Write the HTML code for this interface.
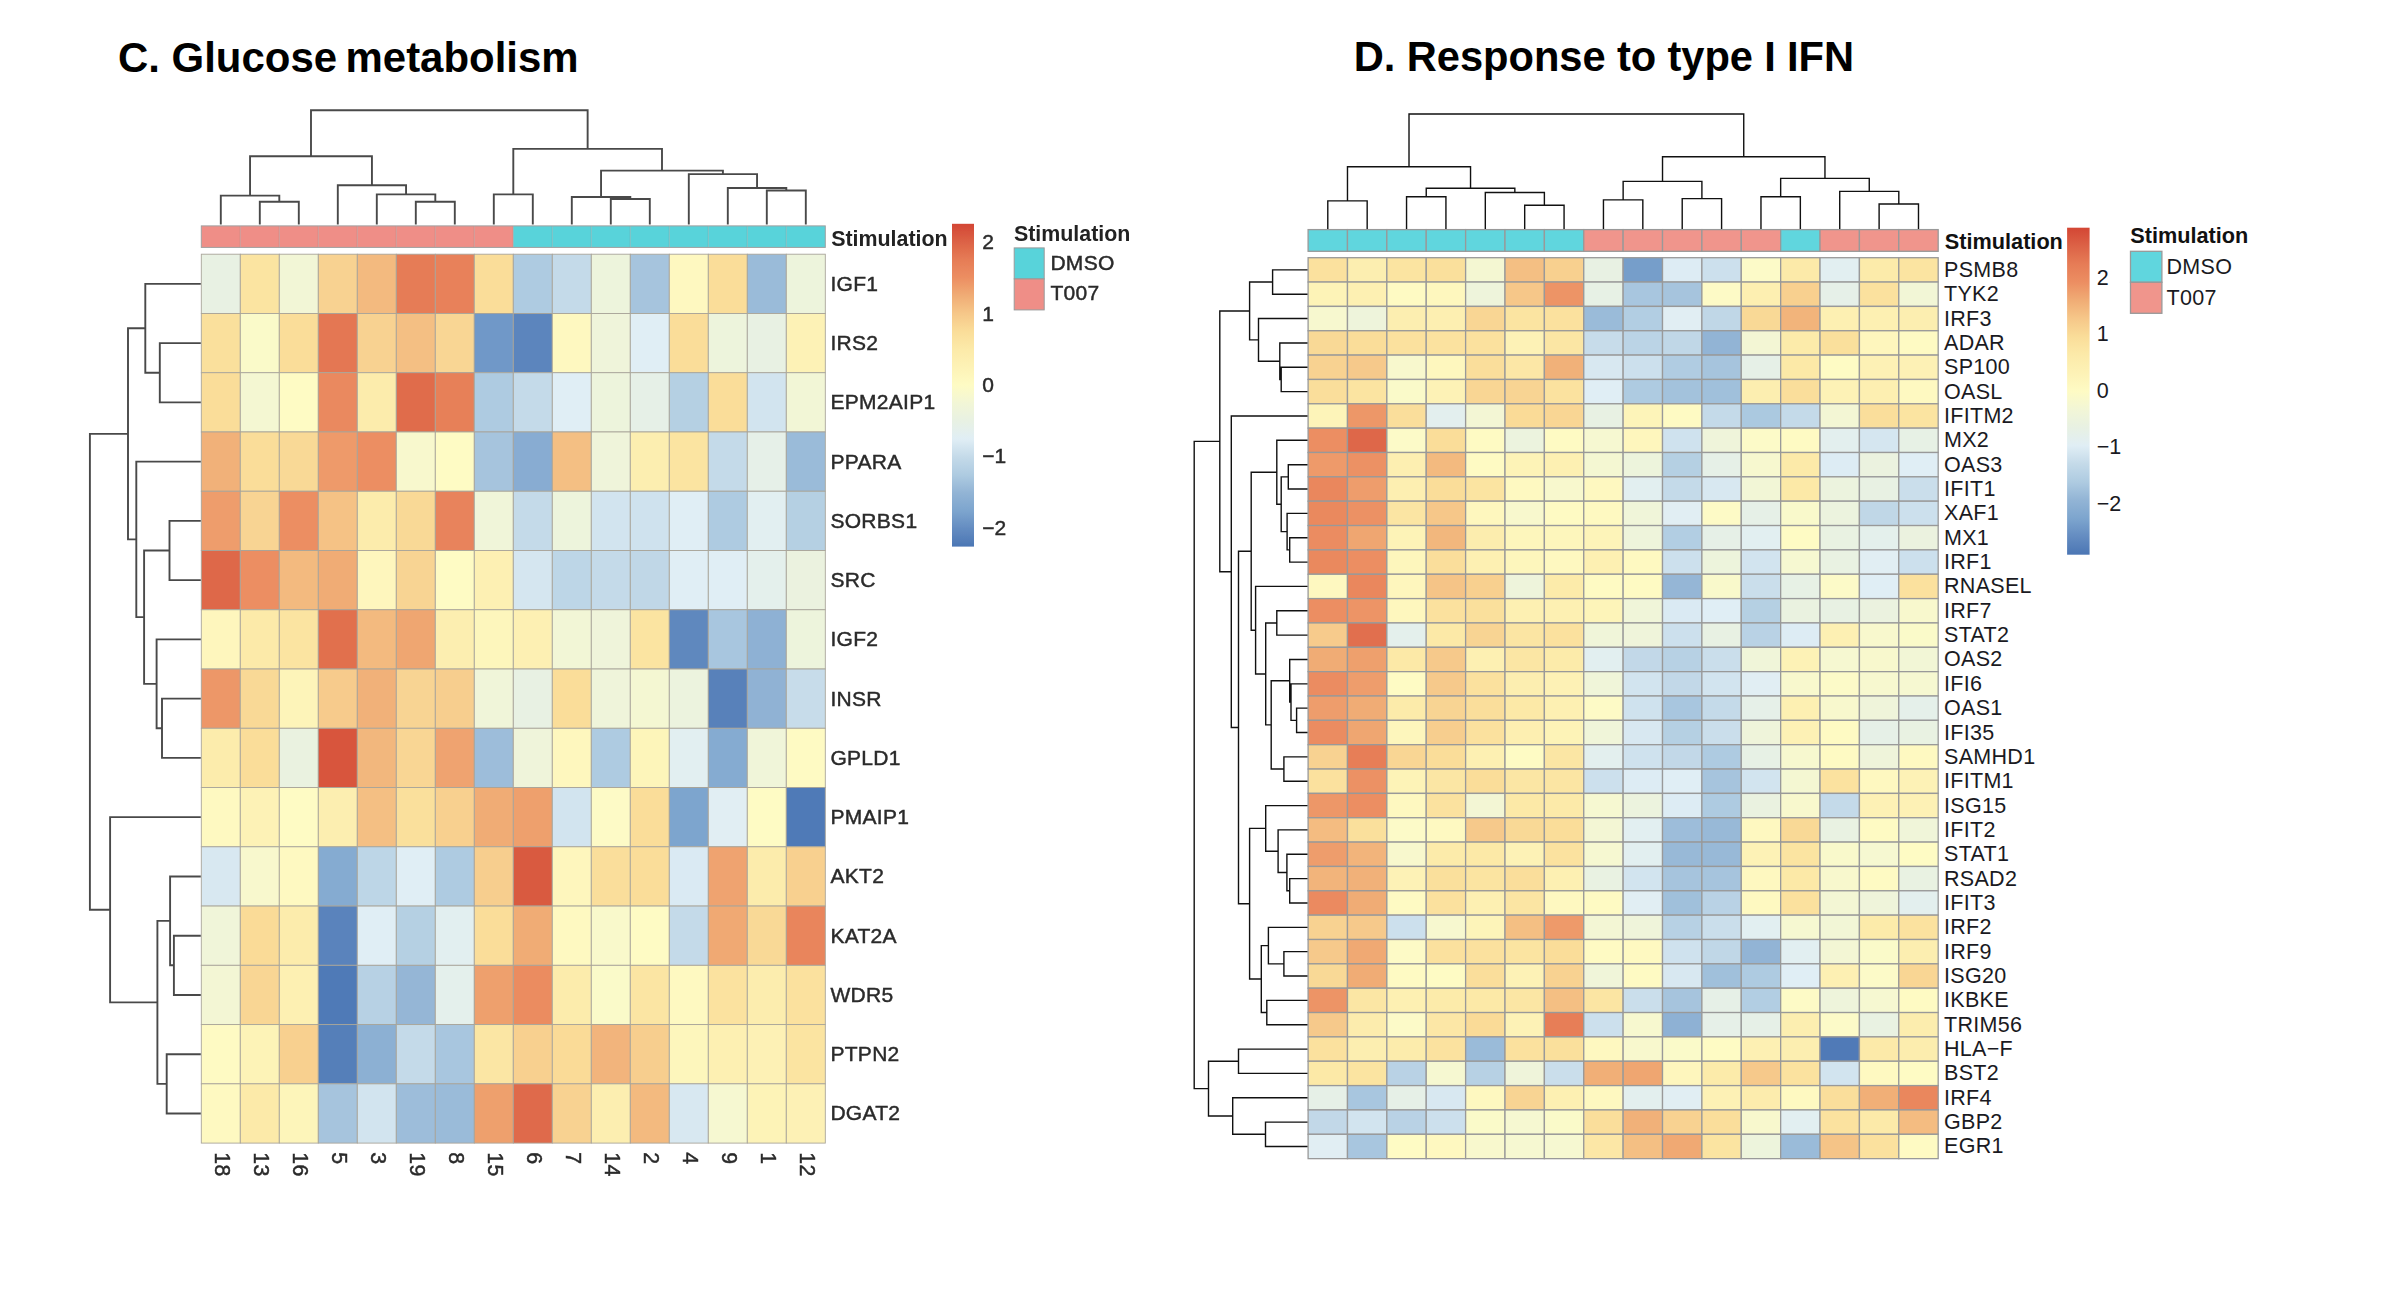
<!DOCTYPE html>
<html><head><meta charset="utf-8"><title>Heatmaps</title>
<style>
html,body{margin:0;padding:0;background:#fff;}
body{width:2407px;height:1303px;overflow:hidden;}
svg{display:block;font-family:"Liberation Sans",Arial,Helvetica,sans-serif;}
</style></head><body>
<svg width="2407" height="1303" viewBox="0 0 2407 1303">
<rect width="2407" height="1303" fill="#ffffff"/>
<text x="118.00" y="71.90" font-size="41.95" font-weight="bold" text-anchor="start" fill="#000" >C. Glucose<tspan dx="-3.2"> metabolism</tspan></text>
<defs><filter id="bl" x="-2%" y="-2%" width="104%" height="104%"><feGaussianBlur stdDeviation="0.55"/></filter></defs><g filter="url(#bl)">
<rect x="201.30" y="225.90" width="39.00" height="21.50" fill="#ef8e87"/>
<rect x="240.30" y="225.90" width="39.00" height="21.50" fill="#ef8e87"/>
<rect x="279.30" y="225.90" width="39.00" height="21.50" fill="#ef8e87"/>
<rect x="318.30" y="225.90" width="39.00" height="21.50" fill="#ef8e87"/>
<rect x="357.30" y="225.90" width="39.00" height="21.50" fill="#ef8e87"/>
<rect x="396.30" y="225.90" width="39.00" height="21.50" fill="#ef8e87"/>
<rect x="435.30" y="225.90" width="39.00" height="21.50" fill="#ef8e87"/>
<rect x="474.30" y="225.90" width="39.00" height="21.50" fill="#ef8e87"/>
<rect x="513.30" y="225.90" width="39.00" height="21.50" fill="#58d3da"/>
<rect x="552.30" y="225.90" width="39.00" height="21.50" fill="#58d3da"/>
<rect x="591.30" y="225.90" width="39.00" height="21.50" fill="#58d3da"/>
<rect x="630.30" y="225.90" width="39.00" height="21.50" fill="#58d3da"/>
<rect x="669.30" y="225.90" width="39.00" height="21.50" fill="#58d3da"/>
<rect x="708.30" y="225.90" width="39.00" height="21.50" fill="#58d3da"/>
<rect x="747.30" y="225.90" width="39.00" height="21.50" fill="#58d3da"/>
<rect x="786.30" y="225.90" width="39.00" height="21.50" fill="#58d3da"/>
<line x1="240.30" y1="225.9" x2="240.30" y2="247.4" stroke="#8c8c8c" stroke-opacity="0.35" stroke-width="1.2"/>
<line x1="279.30" y1="225.9" x2="279.30" y2="247.4" stroke="#8c8c8c" stroke-opacity="0.35" stroke-width="1.2"/>
<line x1="318.30" y1="225.9" x2="318.30" y2="247.4" stroke="#8c8c8c" stroke-opacity="0.35" stroke-width="1.2"/>
<line x1="357.30" y1="225.9" x2="357.30" y2="247.4" stroke="#8c8c8c" stroke-opacity="0.35" stroke-width="1.2"/>
<line x1="396.30" y1="225.9" x2="396.30" y2="247.4" stroke="#8c8c8c" stroke-opacity="0.35" stroke-width="1.2"/>
<line x1="435.30" y1="225.9" x2="435.30" y2="247.4" stroke="#8c8c8c" stroke-opacity="0.35" stroke-width="1.2"/>
<line x1="474.30" y1="225.9" x2="474.30" y2="247.4" stroke="#8c8c8c" stroke-opacity="0.35" stroke-width="1.2"/>
<line x1="513.30" y1="225.9" x2="513.30" y2="247.4" stroke="#8c8c8c" stroke-opacity="0.35" stroke-width="1.2"/>
<line x1="552.30" y1="225.9" x2="552.30" y2="247.4" stroke="#8c8c8c" stroke-opacity="0.35" stroke-width="1.2"/>
<line x1="591.30" y1="225.9" x2="591.30" y2="247.4" stroke="#8c8c8c" stroke-opacity="0.35" stroke-width="1.2"/>
<line x1="630.30" y1="225.9" x2="630.30" y2="247.4" stroke="#8c8c8c" stroke-opacity="0.35" stroke-width="1.2"/>
<line x1="669.30" y1="225.9" x2="669.30" y2="247.4" stroke="#8c8c8c" stroke-opacity="0.35" stroke-width="1.2"/>
<line x1="708.30" y1="225.9" x2="708.30" y2="247.4" stroke="#8c8c8c" stroke-opacity="0.35" stroke-width="1.2"/>
<line x1="747.30" y1="225.9" x2="747.30" y2="247.4" stroke="#8c8c8c" stroke-opacity="0.35" stroke-width="1.2"/>
<line x1="786.30" y1="225.9" x2="786.30" y2="247.4" stroke="#8c8c8c" stroke-opacity="0.35" stroke-width="1.2"/>
<rect x="201.30" y="225.90" width="624.00" height="21.50" fill="none" stroke="#a0a0a0" stroke-width="1"/>
<rect x="201.30" y="254.20" width="39.00" height="59.26" fill="#e8f1e3" stroke="#a9a59a" stroke-width="0.9"/>
<rect x="240.30" y="254.20" width="39.00" height="59.26" fill="#fbe4a1" stroke="#a9a59a" stroke-width="0.9"/>
<rect x="279.30" y="254.20" width="39.00" height="59.26" fill="#f2f6d6" stroke="#a9a59a" stroke-width="0.9"/>
<rect x="318.30" y="254.20" width="39.00" height="59.26" fill="#f8d291" stroke="#a9a59a" stroke-width="0.9"/>
<rect x="357.30" y="254.20" width="39.00" height="59.26" fill="#f3ba7f" stroke="#a9a59a" stroke-width="0.9"/>
<rect x="396.30" y="254.20" width="39.00" height="59.26" fill="#e67c56" stroke="#a9a59a" stroke-width="0.9"/>
<rect x="435.30" y="254.20" width="39.00" height="59.26" fill="#e8815a" stroke="#a9a59a" stroke-width="0.9"/>
<rect x="474.30" y="254.20" width="39.00" height="59.26" fill="#fadd99" stroke="#a9a59a" stroke-width="0.9"/>
<rect x="513.30" y="254.20" width="39.00" height="59.26" fill="#aecbe1" stroke="#a9a59a" stroke-width="0.9"/>
<rect x="552.30" y="254.20" width="39.00" height="59.26" fill="#c4dae9" stroke="#a9a59a" stroke-width="0.9"/>
<rect x="591.30" y="254.20" width="39.00" height="59.26" fill="#edf4dc" stroke="#a9a59a" stroke-width="0.9"/>
<rect x="630.30" y="254.20" width="39.00" height="59.26" fill="#a6c4dd" stroke="#a9a59a" stroke-width="0.9"/>
<rect x="669.30" y="254.20" width="39.00" height="59.26" fill="#fef8c0" stroke="#a9a59a" stroke-width="0.9"/>
<rect x="708.30" y="254.20" width="39.00" height="59.26" fill="#fadd99" stroke="#a9a59a" stroke-width="0.9"/>
<rect x="747.30" y="254.20" width="39.00" height="59.26" fill="#9abbd9" stroke="#a9a59a" stroke-width="0.9"/>
<rect x="786.30" y="254.20" width="39.00" height="59.26" fill="#edf4dc" stroke="#a9a59a" stroke-width="0.9"/>
<rect x="201.30" y="313.46" width="39.00" height="59.26" fill="#fae09c" stroke="#a9a59a" stroke-width="0.9"/>
<rect x="240.30" y="313.46" width="39.00" height="59.26" fill="#fafac9" stroke="#a9a59a" stroke-width="0.9"/>
<rect x="279.30" y="313.46" width="39.00" height="59.26" fill="#fadd99" stroke="#a9a59a" stroke-width="0.9"/>
<rect x="318.30" y="313.46" width="39.00" height="59.26" fill="#e47753" stroke="#a9a59a" stroke-width="0.9"/>
<rect x="357.30" y="313.46" width="39.00" height="59.26" fill="#f8d291" stroke="#a9a59a" stroke-width="0.9"/>
<rect x="396.30" y="313.46" width="39.00" height="59.26" fill="#f4bf83" stroke="#a9a59a" stroke-width="0.9"/>
<rect x="435.30" y="313.46" width="39.00" height="59.26" fill="#f9d694" stroke="#a9a59a" stroke-width="0.9"/>
<rect x="474.30" y="313.46" width="39.00" height="59.26" fill="#7098c8" stroke="#a9a59a" stroke-width="0.9"/>
<rect x="513.30" y="313.46" width="39.00" height="59.26" fill="#5c85bd" stroke="#a9a59a" stroke-width="0.9"/>
<rect x="552.30" y="313.46" width="39.00" height="59.26" fill="#fef8c0" stroke="#a9a59a" stroke-width="0.9"/>
<rect x="591.30" y="313.46" width="39.00" height="59.26" fill="#eff4da" stroke="#a9a59a" stroke-width="0.9"/>
<rect x="630.30" y="313.46" width="39.00" height="59.26" fill="#e0eef5" stroke="#a9a59a" stroke-width="0.9"/>
<rect x="669.30" y="313.46" width="39.00" height="59.26" fill="#fadd99" stroke="#a9a59a" stroke-width="0.9"/>
<rect x="708.30" y="313.46" width="39.00" height="59.26" fill="#edf4dc" stroke="#a9a59a" stroke-width="0.9"/>
<rect x="747.30" y="313.46" width="39.00" height="59.26" fill="#e8f1e3" stroke="#a9a59a" stroke-width="0.9"/>
<rect x="786.30" y="313.46" width="39.00" height="59.26" fill="#fdf2b6" stroke="#a9a59a" stroke-width="0.9"/>
<rect x="201.30" y="372.72" width="39.00" height="59.26" fill="#fadd99" stroke="#a9a59a" stroke-width="0.9"/>
<rect x="240.30" y="372.72" width="39.00" height="59.26" fill="#f4f7d2" stroke="#a9a59a" stroke-width="0.9"/>
<rect x="279.30" y="372.72" width="39.00" height="59.26" fill="#fefbc4" stroke="#a9a59a" stroke-width="0.9"/>
<rect x="318.30" y="372.72" width="39.00" height="59.26" fill="#ea895e" stroke="#a9a59a" stroke-width="0.9"/>
<rect x="357.30" y="372.72" width="39.00" height="59.26" fill="#fcecac" stroke="#a9a59a" stroke-width="0.9"/>
<rect x="396.30" y="372.72" width="39.00" height="59.26" fill="#e06c4c" stroke="#a9a59a" stroke-width="0.9"/>
<rect x="435.30" y="372.72" width="39.00" height="59.26" fill="#e78058" stroke="#a9a59a" stroke-width="0.9"/>
<rect x="474.30" y="372.72" width="39.00" height="59.26" fill="#aecbe1" stroke="#a9a59a" stroke-width="0.9"/>
<rect x="513.30" y="372.72" width="39.00" height="59.26" fill="#c4dae9" stroke="#a9a59a" stroke-width="0.9"/>
<rect x="552.30" y="372.72" width="39.00" height="59.26" fill="#e0eef5" stroke="#a9a59a" stroke-width="0.9"/>
<rect x="591.30" y="372.72" width="39.00" height="59.26" fill="#edf4dc" stroke="#a9a59a" stroke-width="0.9"/>
<rect x="630.30" y="372.72" width="39.00" height="59.26" fill="#e6f0e7" stroke="#a9a59a" stroke-width="0.9"/>
<rect x="669.30" y="372.72" width="39.00" height="59.26" fill="#b5d0e3" stroke="#a9a59a" stroke-width="0.9"/>
<rect x="708.30" y="372.72" width="39.00" height="59.26" fill="#fadd99" stroke="#a9a59a" stroke-width="0.9"/>
<rect x="747.30" y="372.72" width="39.00" height="59.26" fill="#d2e4ef" stroke="#a9a59a" stroke-width="0.9"/>
<rect x="786.30" y="372.72" width="39.00" height="59.26" fill="#f2f6d6" stroke="#a9a59a" stroke-width="0.9"/>
<rect x="201.30" y="431.98" width="39.00" height="59.26" fill="#f1b179" stroke="#a9a59a" stroke-width="0.9"/>
<rect x="240.30" y="431.98" width="39.00" height="59.26" fill="#fadd99" stroke="#a9a59a" stroke-width="0.9"/>
<rect x="279.30" y="431.98" width="39.00" height="59.26" fill="#f9d996" stroke="#a9a59a" stroke-width="0.9"/>
<rect x="318.30" y="431.98" width="39.00" height="59.26" fill="#ee9a6a" stroke="#a9a59a" stroke-width="0.9"/>
<rect x="357.30" y="431.98" width="39.00" height="59.26" fill="#ec8e62" stroke="#a9a59a" stroke-width="0.9"/>
<rect x="396.30" y="431.98" width="39.00" height="59.26" fill="#f8f8cd" stroke="#a9a59a" stroke-width="0.9"/>
<rect x="435.30" y="431.98" width="39.00" height="59.26" fill="#fefbc4" stroke="#a9a59a" stroke-width="0.9"/>
<rect x="474.30" y="431.98" width="39.00" height="59.26" fill="#a6c4dd" stroke="#a9a59a" stroke-width="0.9"/>
<rect x="513.30" y="431.98" width="39.00" height="59.26" fill="#88acd2" stroke="#a9a59a" stroke-width="0.9"/>
<rect x="552.30" y="431.98" width="39.00" height="59.26" fill="#f4bf83" stroke="#a9a59a" stroke-width="0.9"/>
<rect x="591.30" y="431.98" width="39.00" height="59.26" fill="#eff4da" stroke="#a9a59a" stroke-width="0.9"/>
<rect x="630.30" y="431.98" width="39.00" height="59.26" fill="#fceeb0" stroke="#a9a59a" stroke-width="0.9"/>
<rect x="669.30" y="431.98" width="39.00" height="59.26" fill="#fbe4a1" stroke="#a9a59a" stroke-width="0.9"/>
<rect x="708.30" y="431.98" width="39.00" height="59.26" fill="#c4dae9" stroke="#a9a59a" stroke-width="0.9"/>
<rect x="747.30" y="431.98" width="39.00" height="59.26" fill="#e6f0e8" stroke="#a9a59a" stroke-width="0.9"/>
<rect x="786.30" y="431.98" width="39.00" height="59.26" fill="#9abbd9" stroke="#a9a59a" stroke-width="0.9"/>
<rect x="201.30" y="491.24" width="39.00" height="59.26" fill="#ee9d6c" stroke="#a9a59a" stroke-width="0.9"/>
<rect x="240.30" y="491.24" width="39.00" height="59.26" fill="#f8d493" stroke="#a9a59a" stroke-width="0.9"/>
<rect x="279.30" y="491.24" width="39.00" height="59.26" fill="#ec8e62" stroke="#a9a59a" stroke-width="0.9"/>
<rect x="318.30" y="491.24" width="39.00" height="59.26" fill="#f5c285" stroke="#a9a59a" stroke-width="0.9"/>
<rect x="357.30" y="491.24" width="39.00" height="59.26" fill="#fcecac" stroke="#a9a59a" stroke-width="0.9"/>
<rect x="396.30" y="491.24" width="39.00" height="59.26" fill="#f9d996" stroke="#a9a59a" stroke-width="0.9"/>
<rect x="435.30" y="491.24" width="39.00" height="59.26" fill="#e8835b" stroke="#a9a59a" stroke-width="0.9"/>
<rect x="474.30" y="491.24" width="39.00" height="59.26" fill="#f0f5d9" stroke="#a9a59a" stroke-width="0.9"/>
<rect x="513.30" y="491.24" width="39.00" height="59.26" fill="#c4dae9" stroke="#a9a59a" stroke-width="0.9"/>
<rect x="552.30" y="491.24" width="39.00" height="59.26" fill="#edf4dc" stroke="#a9a59a" stroke-width="0.9"/>
<rect x="591.30" y="491.24" width="39.00" height="59.26" fill="#d2e4ef" stroke="#a9a59a" stroke-width="0.9"/>
<rect x="630.30" y="491.24" width="39.00" height="59.26" fill="#cfe2ee" stroke="#a9a59a" stroke-width="0.9"/>
<rect x="669.30" y="491.24" width="39.00" height="59.26" fill="#e0eef5" stroke="#a9a59a" stroke-width="0.9"/>
<rect x="708.30" y="491.24" width="39.00" height="59.26" fill="#aecbe1" stroke="#a9a59a" stroke-width="0.9"/>
<rect x="747.30" y="491.24" width="39.00" height="59.26" fill="#e2eff1" stroke="#a9a59a" stroke-width="0.9"/>
<rect x="786.30" y="491.24" width="39.00" height="59.26" fill="#b5d0e3" stroke="#a9a59a" stroke-width="0.9"/>
<rect x="201.30" y="550.50" width="39.00" height="59.26" fill="#de6749" stroke="#a9a59a" stroke-width="0.9"/>
<rect x="240.30" y="550.50" width="39.00" height="59.26" fill="#ec8e62" stroke="#a9a59a" stroke-width="0.9"/>
<rect x="279.30" y="550.50" width="39.00" height="59.26" fill="#f3ba7f" stroke="#a9a59a" stroke-width="0.9"/>
<rect x="318.30" y="550.50" width="39.00" height="59.26" fill="#f0ac75" stroke="#a9a59a" stroke-width="0.9"/>
<rect x="357.30" y="550.50" width="39.00" height="59.26" fill="#fef6bd" stroke="#a9a59a" stroke-width="0.9"/>
<rect x="396.30" y="550.50" width="39.00" height="59.26" fill="#f8d493" stroke="#a9a59a" stroke-width="0.9"/>
<rect x="435.30" y="550.50" width="39.00" height="59.26" fill="#fefbc4" stroke="#a9a59a" stroke-width="0.9"/>
<rect x="474.30" y="550.50" width="39.00" height="59.26" fill="#fdf0b3" stroke="#a9a59a" stroke-width="0.9"/>
<rect x="513.30" y="550.50" width="39.00" height="59.26" fill="#d5e6f0" stroke="#a9a59a" stroke-width="0.9"/>
<rect x="552.30" y="550.50" width="39.00" height="59.26" fill="#bdd6e7" stroke="#a9a59a" stroke-width="0.9"/>
<rect x="591.30" y="550.50" width="39.00" height="59.26" fill="#c4dae9" stroke="#a9a59a" stroke-width="0.9"/>
<rect x="630.30" y="550.50" width="39.00" height="59.26" fill="#c0d7e7" stroke="#a9a59a" stroke-width="0.9"/>
<rect x="669.30" y="550.50" width="39.00" height="59.26" fill="#e0eef5" stroke="#a9a59a" stroke-width="0.9"/>
<rect x="708.30" y="550.50" width="39.00" height="59.26" fill="#e0eef5" stroke="#a9a59a" stroke-width="0.9"/>
<rect x="747.30" y="550.50" width="39.00" height="59.26" fill="#e4f0ec" stroke="#a9a59a" stroke-width="0.9"/>
<rect x="786.30" y="550.50" width="39.00" height="59.26" fill="#ebf2df" stroke="#a9a59a" stroke-width="0.9"/>
<rect x="201.30" y="609.76" width="39.00" height="59.26" fill="#fef6bd" stroke="#a9a59a" stroke-width="0.9"/>
<rect x="240.30" y="609.76" width="39.00" height="59.26" fill="#fceaa9" stroke="#a9a59a" stroke-width="0.9"/>
<rect x="279.30" y="609.76" width="39.00" height="59.26" fill="#fbe4a1" stroke="#a9a59a" stroke-width="0.9"/>
<rect x="318.30" y="609.76" width="39.00" height="59.26" fill="#e16f4e" stroke="#a9a59a" stroke-width="0.9"/>
<rect x="357.30" y="609.76" width="39.00" height="59.26" fill="#f3ba7f" stroke="#a9a59a" stroke-width="0.9"/>
<rect x="396.30" y="609.76" width="39.00" height="59.26" fill="#efa671" stroke="#a9a59a" stroke-width="0.9"/>
<rect x="435.30" y="609.76" width="39.00" height="59.26" fill="#fceeb0" stroke="#a9a59a" stroke-width="0.9"/>
<rect x="474.30" y="609.76" width="39.00" height="59.26" fill="#fdf6bc" stroke="#a9a59a" stroke-width="0.9"/>
<rect x="513.30" y="609.76" width="39.00" height="59.26" fill="#fdf0b3" stroke="#a9a59a" stroke-width="0.9"/>
<rect x="552.30" y="609.76" width="39.00" height="59.26" fill="#f2f6d6" stroke="#a9a59a" stroke-width="0.9"/>
<rect x="591.30" y="609.76" width="39.00" height="59.26" fill="#eff4da" stroke="#a9a59a" stroke-width="0.9"/>
<rect x="630.30" y="609.76" width="39.00" height="59.26" fill="#fbe4a1" stroke="#a9a59a" stroke-width="0.9"/>
<rect x="669.30" y="609.76" width="39.00" height="59.26" fill="#5f88be" stroke="#a9a59a" stroke-width="0.9"/>
<rect x="708.30" y="609.76" width="39.00" height="59.26" fill="#a8c6df" stroke="#a9a59a" stroke-width="0.9"/>
<rect x="747.30" y="609.76" width="39.00" height="59.26" fill="#8eb1d4" stroke="#a9a59a" stroke-width="0.9"/>
<rect x="786.30" y="609.76" width="39.00" height="59.26" fill="#edf4dc" stroke="#a9a59a" stroke-width="0.9"/>
<rect x="201.30" y="669.02" width="39.00" height="59.26" fill="#ed9768" stroke="#a9a59a" stroke-width="0.9"/>
<rect x="240.30" y="669.02" width="39.00" height="59.26" fill="#f9d996" stroke="#a9a59a" stroke-width="0.9"/>
<rect x="279.30" y="669.02" width="39.00" height="59.26" fill="#fdf4b9" stroke="#a9a59a" stroke-width="0.9"/>
<rect x="318.30" y="669.02" width="39.00" height="59.26" fill="#f7cb8c" stroke="#a9a59a" stroke-width="0.9"/>
<rect x="357.30" y="669.02" width="39.00" height="59.26" fill="#f1b179" stroke="#a9a59a" stroke-width="0.9"/>
<rect x="396.30" y="669.02" width="39.00" height="59.26" fill="#f8d493" stroke="#a9a59a" stroke-width="0.9"/>
<rect x="435.30" y="669.02" width="39.00" height="59.26" fill="#f7ce8e" stroke="#a9a59a" stroke-width="0.9"/>
<rect x="474.30" y="669.02" width="39.00" height="59.26" fill="#f0f5d9" stroke="#a9a59a" stroke-width="0.9"/>
<rect x="513.30" y="669.02" width="39.00" height="59.26" fill="#e8f1e3" stroke="#a9a59a" stroke-width="0.9"/>
<rect x="552.30" y="669.02" width="39.00" height="59.26" fill="#fadd99" stroke="#a9a59a" stroke-width="0.9"/>
<rect x="591.30" y="669.02" width="39.00" height="59.26" fill="#eff4da" stroke="#a9a59a" stroke-width="0.9"/>
<rect x="630.30" y="669.02" width="39.00" height="59.26" fill="#f4f7d2" stroke="#a9a59a" stroke-width="0.9"/>
<rect x="669.30" y="669.02" width="39.00" height="59.26" fill="#ecf3de" stroke="#a9a59a" stroke-width="0.9"/>
<rect x="708.30" y="669.02" width="39.00" height="59.26" fill="#5881ba" stroke="#a9a59a" stroke-width="0.9"/>
<rect x="747.30" y="669.02" width="39.00" height="59.26" fill="#90b2d4" stroke="#a9a59a" stroke-width="0.9"/>
<rect x="786.30" y="669.02" width="39.00" height="59.26" fill="#c7dcea" stroke="#a9a59a" stroke-width="0.9"/>
<rect x="201.30" y="728.28" width="39.00" height="59.26" fill="#fcecac" stroke="#a9a59a" stroke-width="0.9"/>
<rect x="240.30" y="728.28" width="39.00" height="59.26" fill="#fadd99" stroke="#a9a59a" stroke-width="0.9"/>
<rect x="279.30" y="728.28" width="39.00" height="59.26" fill="#eaf2e0" stroke="#a9a59a" stroke-width="0.9"/>
<rect x="318.30" y="728.28" width="39.00" height="59.26" fill="#d8543d" stroke="#a9a59a" stroke-width="0.9"/>
<rect x="357.30" y="728.28" width="39.00" height="59.26" fill="#f2b77d" stroke="#a9a59a" stroke-width="0.9"/>
<rect x="396.30" y="728.28" width="39.00" height="59.26" fill="#f9d694" stroke="#a9a59a" stroke-width="0.9"/>
<rect x="435.30" y="728.28" width="39.00" height="59.26" fill="#efa36f" stroke="#a9a59a" stroke-width="0.9"/>
<rect x="474.30" y="728.28" width="39.00" height="59.26" fill="#9dbdda" stroke="#a9a59a" stroke-width="0.9"/>
<rect x="513.30" y="728.28" width="39.00" height="59.26" fill="#eff4da" stroke="#a9a59a" stroke-width="0.9"/>
<rect x="552.30" y="728.28" width="39.00" height="59.26" fill="#fef7be" stroke="#a9a59a" stroke-width="0.9"/>
<rect x="591.30" y="728.28" width="39.00" height="59.26" fill="#aecbe1" stroke="#a9a59a" stroke-width="0.9"/>
<rect x="630.30" y="728.28" width="39.00" height="59.26" fill="#fdf5ba" stroke="#a9a59a" stroke-width="0.9"/>
<rect x="669.30" y="728.28" width="39.00" height="59.26" fill="#e2eff1" stroke="#a9a59a" stroke-width="0.9"/>
<rect x="708.30" y="728.28" width="39.00" height="59.26" fill="#85abd1" stroke="#a9a59a" stroke-width="0.9"/>
<rect x="747.30" y="728.28" width="39.00" height="59.26" fill="#f0f5d9" stroke="#a9a59a" stroke-width="0.9"/>
<rect x="786.30" y="728.28" width="39.00" height="59.26" fill="#fefac3" stroke="#a9a59a" stroke-width="0.9"/>
<rect x="201.30" y="787.54" width="39.00" height="59.26" fill="#fef9c1" stroke="#a9a59a" stroke-width="0.9"/>
<rect x="240.30" y="787.54" width="39.00" height="59.26" fill="#fdf2b6" stroke="#a9a59a" stroke-width="0.9"/>
<rect x="279.30" y="787.54" width="39.00" height="59.26" fill="#fefbc4" stroke="#a9a59a" stroke-width="0.9"/>
<rect x="318.30" y="787.54" width="39.00" height="59.26" fill="#fceeb0" stroke="#a9a59a" stroke-width="0.9"/>
<rect x="357.30" y="787.54" width="39.00" height="59.26" fill="#f4bf83" stroke="#a9a59a" stroke-width="0.9"/>
<rect x="396.30" y="787.54" width="39.00" height="59.26" fill="#fae09c" stroke="#a9a59a" stroke-width="0.9"/>
<rect x="435.30" y="787.54" width="39.00" height="59.26" fill="#f8d08f" stroke="#a9a59a" stroke-width="0.9"/>
<rect x="474.30" y="787.54" width="39.00" height="59.26" fill="#f0ac75" stroke="#a9a59a" stroke-width="0.9"/>
<rect x="513.30" y="787.54" width="39.00" height="59.26" fill="#eea06d" stroke="#a9a59a" stroke-width="0.9"/>
<rect x="552.30" y="787.54" width="39.00" height="59.26" fill="#d2e4ef" stroke="#a9a59a" stroke-width="0.9"/>
<rect x="591.30" y="787.54" width="39.00" height="59.26" fill="#fdfac6" stroke="#a9a59a" stroke-width="0.9"/>
<rect x="630.30" y="787.54" width="39.00" height="59.26" fill="#fadd99" stroke="#a9a59a" stroke-width="0.9"/>
<rect x="669.30" y="787.54" width="39.00" height="59.26" fill="#7da5ce" stroke="#a9a59a" stroke-width="0.9"/>
<rect x="708.30" y="787.54" width="39.00" height="59.26" fill="#e1eef3" stroke="#a9a59a" stroke-width="0.9"/>
<rect x="747.30" y="787.54" width="39.00" height="59.26" fill="#fefbc4" stroke="#a9a59a" stroke-width="0.9"/>
<rect x="786.30" y="787.54" width="39.00" height="59.26" fill="#507ab7" stroke="#a9a59a" stroke-width="0.9"/>
<rect x="201.30" y="846.80" width="39.00" height="59.26" fill="#d8e8f1" stroke="#a9a59a" stroke-width="0.9"/>
<rect x="240.30" y="846.80" width="39.00" height="59.26" fill="#f8f8cd" stroke="#a9a59a" stroke-width="0.9"/>
<rect x="279.30" y="846.80" width="39.00" height="59.26" fill="#fef9c1" stroke="#a9a59a" stroke-width="0.9"/>
<rect x="318.30" y="846.80" width="39.00" height="59.26" fill="#85abd1" stroke="#a9a59a" stroke-width="0.9"/>
<rect x="357.30" y="846.80" width="39.00" height="59.26" fill="#bdd6e7" stroke="#a9a59a" stroke-width="0.9"/>
<rect x="396.30" y="846.80" width="39.00" height="59.26" fill="#e0eef5" stroke="#a9a59a" stroke-width="0.9"/>
<rect x="435.30" y="846.80" width="39.00" height="59.26" fill="#aecbe1" stroke="#a9a59a" stroke-width="0.9"/>
<rect x="474.30" y="846.80" width="39.00" height="59.26" fill="#f7ce8e" stroke="#a9a59a" stroke-width="0.9"/>
<rect x="513.30" y="846.80" width="39.00" height="59.26" fill="#d95a41" stroke="#a9a59a" stroke-width="0.9"/>
<rect x="552.30" y="846.80" width="39.00" height="59.26" fill="#fef6bd" stroke="#a9a59a" stroke-width="0.9"/>
<rect x="591.30" y="846.80" width="39.00" height="59.26" fill="#fade9b" stroke="#a9a59a" stroke-width="0.9"/>
<rect x="630.30" y="846.80" width="39.00" height="59.26" fill="#fadd99" stroke="#a9a59a" stroke-width="0.9"/>
<rect x="669.30" y="846.80" width="39.00" height="59.26" fill="#daeaf3" stroke="#a9a59a" stroke-width="0.9"/>
<rect x="708.30" y="846.80" width="39.00" height="59.26" fill="#efa36f" stroke="#a9a59a" stroke-width="0.9"/>
<rect x="747.30" y="846.80" width="39.00" height="59.26" fill="#fcecac" stroke="#a9a59a" stroke-width="0.9"/>
<rect x="786.30" y="846.80" width="39.00" height="59.26" fill="#f8d08f" stroke="#a9a59a" stroke-width="0.9"/>
<rect x="201.30" y="906.06" width="39.00" height="59.26" fill="#f0f5d9" stroke="#a9a59a" stroke-width="0.9"/>
<rect x="240.30" y="906.06" width="39.00" height="59.26" fill="#fadb97" stroke="#a9a59a" stroke-width="0.9"/>
<rect x="279.30" y="906.06" width="39.00" height="59.26" fill="#fcecac" stroke="#a9a59a" stroke-width="0.9"/>
<rect x="318.30" y="906.06" width="39.00" height="59.26" fill="#5a83bc" stroke="#a9a59a" stroke-width="0.9"/>
<rect x="357.30" y="906.06" width="39.00" height="59.26" fill="#e0eef5" stroke="#a9a59a" stroke-width="0.9"/>
<rect x="396.30" y="906.06" width="39.00" height="59.26" fill="#b5d0e3" stroke="#a9a59a" stroke-width="0.9"/>
<rect x="435.30" y="906.06" width="39.00" height="59.26" fill="#e2eff0" stroke="#a9a59a" stroke-width="0.9"/>
<rect x="474.30" y="906.06" width="39.00" height="59.26" fill="#fadd99" stroke="#a9a59a" stroke-width="0.9"/>
<rect x="513.30" y="906.06" width="39.00" height="59.26" fill="#f0ac75" stroke="#a9a59a" stroke-width="0.9"/>
<rect x="552.30" y="906.06" width="39.00" height="59.26" fill="#fef9c1" stroke="#a9a59a" stroke-width="0.9"/>
<rect x="591.30" y="906.06" width="39.00" height="59.26" fill="#f9f9cb" stroke="#a9a59a" stroke-width="0.9"/>
<rect x="630.30" y="906.06" width="39.00" height="59.26" fill="#fefbc4" stroke="#a9a59a" stroke-width="0.9"/>
<rect x="669.30" y="906.06" width="39.00" height="59.26" fill="#c4dae9" stroke="#a9a59a" stroke-width="0.9"/>
<rect x="708.30" y="906.06" width="39.00" height="59.26" fill="#f0a973" stroke="#a9a59a" stroke-width="0.9"/>
<rect x="747.30" y="906.06" width="39.00" height="59.26" fill="#f9d996" stroke="#a9a59a" stroke-width="0.9"/>
<rect x="786.30" y="906.06" width="39.00" height="59.26" fill="#e9855c" stroke="#a9a59a" stroke-width="0.9"/>
<rect x="201.30" y="965.32" width="39.00" height="59.26" fill="#f3f6d4" stroke="#a9a59a" stroke-width="0.9"/>
<rect x="240.30" y="965.32" width="39.00" height="59.26" fill="#f9d694" stroke="#a9a59a" stroke-width="0.9"/>
<rect x="279.30" y="965.32" width="39.00" height="59.26" fill="#fdf0b2" stroke="#a9a59a" stroke-width="0.9"/>
<rect x="318.30" y="965.32" width="39.00" height="59.26" fill="#507ab7" stroke="#a9a59a" stroke-width="0.9"/>
<rect x="357.30" y="965.32" width="39.00" height="59.26" fill="#b7d1e4" stroke="#a9a59a" stroke-width="0.9"/>
<rect x="396.30" y="965.32" width="39.00" height="59.26" fill="#95b6d6" stroke="#a9a59a" stroke-width="0.9"/>
<rect x="435.30" y="965.32" width="39.00" height="59.26" fill="#e4f0ec" stroke="#a9a59a" stroke-width="0.9"/>
<rect x="474.30" y="965.32" width="39.00" height="59.26" fill="#eea06d" stroke="#a9a59a" stroke-width="0.9"/>
<rect x="513.30" y="965.32" width="39.00" height="59.26" fill="#eb8c61" stroke="#a9a59a" stroke-width="0.9"/>
<rect x="552.30" y="965.32" width="39.00" height="59.26" fill="#fcecac" stroke="#a9a59a" stroke-width="0.9"/>
<rect x="591.30" y="965.32" width="39.00" height="59.26" fill="#fafac9" stroke="#a9a59a" stroke-width="0.9"/>
<rect x="630.30" y="965.32" width="39.00" height="59.26" fill="#fbe5a3" stroke="#a9a59a" stroke-width="0.9"/>
<rect x="669.30" y="965.32" width="39.00" height="59.26" fill="#fef9c1" stroke="#a9a59a" stroke-width="0.9"/>
<rect x="708.30" y="965.32" width="39.00" height="59.26" fill="#fbe29f" stroke="#a9a59a" stroke-width="0.9"/>
<rect x="747.30" y="965.32" width="39.00" height="59.26" fill="#fcedae" stroke="#a9a59a" stroke-width="0.9"/>
<rect x="786.30" y="965.32" width="39.00" height="59.26" fill="#fbe19e" stroke="#a9a59a" stroke-width="0.9"/>
<rect x="201.30" y="1024.58" width="39.00" height="59.26" fill="#fefac3" stroke="#a9a59a" stroke-width="0.9"/>
<rect x="240.30" y="1024.58" width="39.00" height="59.26" fill="#fdf3b7" stroke="#a9a59a" stroke-width="0.9"/>
<rect x="279.30" y="1024.58" width="39.00" height="59.26" fill="#f8d08f" stroke="#a9a59a" stroke-width="0.9"/>
<rect x="318.30" y="1024.58" width="39.00" height="59.26" fill="#557fb9" stroke="#a9a59a" stroke-width="0.9"/>
<rect x="357.30" y="1024.58" width="39.00" height="59.26" fill="#8cb0d3" stroke="#a9a59a" stroke-width="0.9"/>
<rect x="396.30" y="1024.58" width="39.00" height="59.26" fill="#c4dae9" stroke="#a9a59a" stroke-width="0.9"/>
<rect x="435.30" y="1024.58" width="39.00" height="59.26" fill="#a8c6df" stroke="#a9a59a" stroke-width="0.9"/>
<rect x="474.30" y="1024.58" width="39.00" height="59.26" fill="#fbe6a4" stroke="#a9a59a" stroke-width="0.9"/>
<rect x="513.30" y="1024.58" width="39.00" height="59.26" fill="#f8d08f" stroke="#a9a59a" stroke-width="0.9"/>
<rect x="552.30" y="1024.58" width="39.00" height="59.26" fill="#fadb97" stroke="#a9a59a" stroke-width="0.9"/>
<rect x="591.30" y="1024.58" width="39.00" height="59.26" fill="#f2b47b" stroke="#a9a59a" stroke-width="0.9"/>
<rect x="630.30" y="1024.58" width="39.00" height="59.26" fill="#f7ce8e" stroke="#a9a59a" stroke-width="0.9"/>
<rect x="669.30" y="1024.58" width="39.00" height="59.26" fill="#fdf6bc" stroke="#a9a59a" stroke-width="0.9"/>
<rect x="708.30" y="1024.58" width="39.00" height="59.26" fill="#fdf0b2" stroke="#a9a59a" stroke-width="0.9"/>
<rect x="747.30" y="1024.58" width="39.00" height="59.26" fill="#fdf1b5" stroke="#a9a59a" stroke-width="0.9"/>
<rect x="786.30" y="1024.58" width="39.00" height="59.26" fill="#fbe4a1" stroke="#a9a59a" stroke-width="0.9"/>
<rect x="201.30" y="1083.84" width="39.00" height="59.26" fill="#fef9c1" stroke="#a9a59a" stroke-width="0.9"/>
<rect x="240.30" y="1083.84" width="39.00" height="59.26" fill="#fceaa9" stroke="#a9a59a" stroke-width="0.9"/>
<rect x="279.30" y="1083.84" width="39.00" height="59.26" fill="#fdf5ba" stroke="#a9a59a" stroke-width="0.9"/>
<rect x="318.30" y="1083.84" width="39.00" height="59.26" fill="#a6c4dd" stroke="#a9a59a" stroke-width="0.9"/>
<rect x="357.30" y="1083.84" width="39.00" height="59.26" fill="#d2e4ef" stroke="#a9a59a" stroke-width="0.9"/>
<rect x="396.30" y="1083.84" width="39.00" height="59.26" fill="#9dbdda" stroke="#a9a59a" stroke-width="0.9"/>
<rect x="435.30" y="1083.84" width="39.00" height="59.26" fill="#9abbd9" stroke="#a9a59a" stroke-width="0.9"/>
<rect x="474.30" y="1083.84" width="39.00" height="59.26" fill="#eea06d" stroke="#a9a59a" stroke-width="0.9"/>
<rect x="513.30" y="1083.84" width="39.00" height="59.26" fill="#df6a4b" stroke="#a9a59a" stroke-width="0.9"/>
<rect x="552.30" y="1083.84" width="39.00" height="59.26" fill="#f8d291" stroke="#a9a59a" stroke-width="0.9"/>
<rect x="591.30" y="1083.84" width="39.00" height="59.26" fill="#fceeb0" stroke="#a9a59a" stroke-width="0.9"/>
<rect x="630.30" y="1083.84" width="39.00" height="59.26" fill="#f3ba7f" stroke="#a9a59a" stroke-width="0.9"/>
<rect x="669.30" y="1083.84" width="39.00" height="59.26" fill="#d8e8f1" stroke="#a9a59a" stroke-width="0.9"/>
<rect x="708.30" y="1083.84" width="39.00" height="59.26" fill="#f6f8d1" stroke="#a9a59a" stroke-width="0.9"/>
<rect x="747.30" y="1083.84" width="39.00" height="59.26" fill="#fdf3b7" stroke="#a9a59a" stroke-width="0.9"/>
<rect x="786.30" y="1083.84" width="39.00" height="59.26" fill="#fdf1b5" stroke="#a9a59a" stroke-width="0.9"/>
<path d="M259.80,224.40V201.80H298.80V224.40 M220.80,224.40V195.60H279.30V201.80 M415.80,224.40V201.80H454.80V224.40 M376.80,224.40V194.40H435.30V201.80 M337.80,224.40V185.20H406.05V194.40 M250.05,195.60V156.30H371.93V185.20 M493.80,224.40V194.40H532.80V224.40 M610.80,224.40V199.00H649.80V224.40 M571.80,224.40V197.00H630.30V199.00 M766.80,224.40V190.50H805.80V224.40 M727.80,224.40V188.00H786.30V190.50 M688.80,224.40V174.10H757.05V188.00 M601.05,197.00V170.60H722.92V174.10 M513.30,194.40V148.90H661.99V170.60 M310.99,156.30V110.30H587.64V148.90" fill="none" stroke="#4a4a4a" stroke-width="1.9" stroke-linejoin="miter" stroke-linecap="butt"/>
<path d="M200.80,343.09H159.80V402.35H200.80 M200.80,283.83H145.30V372.72H159.80 M200.80,520.87H169.50V580.13H200.80 M200.80,698.65H162.00V757.91H200.80 M200.80,639.39H156.60V728.28H162.00 M169.50,550.50H144.10V683.84H156.60 M200.80,461.61H136.30V617.17H144.10 M145.30,328.27H128.00V539.39H136.30 M200.80,935.69H173.90V994.95H200.80 M200.80,876.43H170.10V965.32H173.90 M200.80,1054.21H166.70V1113.47H200.80 M170.10,920.88H157.40V1083.84H166.70 M200.80,817.17H110.10V1002.36H157.40 M128.00,433.83H89.90V909.76H110.10" fill="none" stroke="#4a4a4a" stroke-width="1.9" stroke-linejoin="miter" stroke-linecap="butt"/>
<text x="830.40" y="290.83" font-size="21" font-weight="normal" text-anchor="start" fill="#2a2a2a" letter-spacing="0.3" stroke="#2a2a2a" stroke-width="0.45">IGF1</text>
<text x="830.40" y="350.09" font-size="21" font-weight="normal" text-anchor="start" fill="#2a2a2a" letter-spacing="0.3" stroke="#2a2a2a" stroke-width="0.45">IRS2</text>
<text x="830.40" y="409.35" font-size="21" font-weight="normal" text-anchor="start" fill="#2a2a2a" letter-spacing="0.3" stroke="#2a2a2a" stroke-width="0.45">EPM2AIP1</text>
<text x="830.40" y="468.61" font-size="21" font-weight="normal" text-anchor="start" fill="#2a2a2a" letter-spacing="0.3" stroke="#2a2a2a" stroke-width="0.45">PPARA</text>
<text x="830.40" y="527.87" font-size="21" font-weight="normal" text-anchor="start" fill="#2a2a2a" letter-spacing="0.3" stroke="#2a2a2a" stroke-width="0.45">SORBS1</text>
<text x="830.40" y="587.13" font-size="21" font-weight="normal" text-anchor="start" fill="#2a2a2a" letter-spacing="0.3" stroke="#2a2a2a" stroke-width="0.45">SRC</text>
<text x="830.40" y="646.39" font-size="21" font-weight="normal" text-anchor="start" fill="#2a2a2a" letter-spacing="0.3" stroke="#2a2a2a" stroke-width="0.45">IGF2</text>
<text x="830.40" y="705.65" font-size="21" font-weight="normal" text-anchor="start" fill="#2a2a2a" letter-spacing="0.3" stroke="#2a2a2a" stroke-width="0.45">INSR</text>
<text x="830.40" y="764.91" font-size="21" font-weight="normal" text-anchor="start" fill="#2a2a2a" letter-spacing="0.3" stroke="#2a2a2a" stroke-width="0.45">GPLD1</text>
<text x="830.40" y="824.17" font-size="21" font-weight="normal" text-anchor="start" fill="#2a2a2a" letter-spacing="0.3" stroke="#2a2a2a" stroke-width="0.45">PMAIP1</text>
<text x="830.40" y="883.43" font-size="21" font-weight="normal" text-anchor="start" fill="#2a2a2a" letter-spacing="0.3" stroke="#2a2a2a" stroke-width="0.45">AKT2</text>
<text x="830.40" y="942.69" font-size="21" font-weight="normal" text-anchor="start" fill="#2a2a2a" letter-spacing="0.3" stroke="#2a2a2a" stroke-width="0.45">KAT2A</text>
<text x="830.40" y="1001.95" font-size="21" font-weight="normal" text-anchor="start" fill="#2a2a2a" letter-spacing="0.3" stroke="#2a2a2a" stroke-width="0.45">WDR5</text>
<text x="830.40" y="1061.21" font-size="21" font-weight="normal" text-anchor="start" fill="#2a2a2a" letter-spacing="0.3" stroke="#2a2a2a" stroke-width="0.45">PTPN2</text>
<text x="830.40" y="1120.47" font-size="21" font-weight="normal" text-anchor="start" fill="#2a2a2a" letter-spacing="0.3" stroke="#2a2a2a" stroke-width="0.45">DGAT2</text>
<text x="831.20" y="245.50" font-size="21.4" font-weight="bold" text-anchor="start" fill="#222" >Stimulation</text>
<text transform="translate(214.90,1152.3) rotate(90)" font-size="21.3" fill="#2a2a2a" stroke="#2a2a2a" stroke-width="0.45" letter-spacing="0.3">18</text>
<text transform="translate(253.90,1152.3) rotate(90)" font-size="21.3" fill="#2a2a2a" stroke="#2a2a2a" stroke-width="0.45" letter-spacing="0.3">13</text>
<text transform="translate(292.90,1152.3) rotate(90)" font-size="21.3" fill="#2a2a2a" stroke="#2a2a2a" stroke-width="0.45" letter-spacing="0.3">16</text>
<text transform="translate(331.90,1152.3) rotate(90)" font-size="21.3" fill="#2a2a2a" stroke="#2a2a2a" stroke-width="0.45" letter-spacing="0.3">5</text>
<text transform="translate(370.90,1152.3) rotate(90)" font-size="21.3" fill="#2a2a2a" stroke="#2a2a2a" stroke-width="0.45" letter-spacing="0.3">3</text>
<text transform="translate(409.90,1152.3) rotate(90)" font-size="21.3" fill="#2a2a2a" stroke="#2a2a2a" stroke-width="0.45" letter-spacing="0.3">19</text>
<text transform="translate(448.90,1152.3) rotate(90)" font-size="21.3" fill="#2a2a2a" stroke="#2a2a2a" stroke-width="0.45" letter-spacing="0.3">8</text>
<text transform="translate(487.90,1152.3) rotate(90)" font-size="21.3" fill="#2a2a2a" stroke="#2a2a2a" stroke-width="0.45" letter-spacing="0.3">15</text>
<text transform="translate(526.90,1152.3) rotate(90)" font-size="21.3" fill="#2a2a2a" stroke="#2a2a2a" stroke-width="0.45" letter-spacing="0.3">6</text>
<text transform="translate(565.90,1152.3) rotate(90)" font-size="21.3" fill="#2a2a2a" stroke="#2a2a2a" stroke-width="0.45" letter-spacing="0.3">7</text>
<text transform="translate(604.90,1152.3) rotate(90)" font-size="21.3" fill="#2a2a2a" stroke="#2a2a2a" stroke-width="0.45" letter-spacing="0.3">14</text>
<text transform="translate(643.90,1152.3) rotate(90)" font-size="21.3" fill="#2a2a2a" stroke="#2a2a2a" stroke-width="0.45" letter-spacing="0.3">2</text>
<text transform="translate(682.90,1152.3) rotate(90)" font-size="21.3" fill="#2a2a2a" stroke="#2a2a2a" stroke-width="0.45" letter-spacing="0.3">4</text>
<text transform="translate(721.90,1152.3) rotate(90)" font-size="21.3" fill="#2a2a2a" stroke="#2a2a2a" stroke-width="0.45" letter-spacing="0.3">9</text>
<text transform="translate(760.90,1152.3) rotate(90)" font-size="21.3" fill="#2a2a2a" stroke="#2a2a2a" stroke-width="0.45" letter-spacing="0.3">1</text>
<text transform="translate(799.90,1152.3) rotate(90)" font-size="21.3" fill="#2a2a2a" stroke="#2a2a2a" stroke-width="0.45" letter-spacing="0.3">12</text>
<defs><linearGradient id="g" x1="0" y1="0" x2="0" y2="1"><stop offset="0.0000" stop-color="#d34634"/><stop offset="0.0556" stop-color="#dc6246"/><stop offset="0.1111" stop-color="#e67c56"/><stop offset="0.1667" stop-color="#ec8e62"/><stop offset="0.2222" stop-color="#f0ac75"/><stop offset="0.2778" stop-color="#f6c789"/><stop offset="0.3333" stop-color="#fadd99"/><stop offset="0.3889" stop-color="#fceaa9"/><stop offset="0.4444" stop-color="#fdf2b6"/><stop offset="0.5000" stop-color="#fefbc4"/><stop offset="0.5556" stop-color="#f2f6d6"/><stop offset="0.6111" stop-color="#e8f1e3"/><stop offset="0.6667" stop-color="#e0eef5"/><stop offset="0.7222" stop-color="#c4dae9"/><stop offset="0.7778" stop-color="#aecbe1"/><stop offset="0.8333" stop-color="#92b4d5"/><stop offset="0.8889" stop-color="#7da5ce"/><stop offset="0.9444" stop-color="#648cc1"/><stop offset="1.0000" stop-color="#4b76b4"/></linearGradient></defs>
<rect x="952.00" y="223.80" width="22.00" height="322.80" fill="url(#g)"/>
<text x="982.30" y="249.10" font-size="21" font-weight="normal" text-anchor="start" fill="#2a2a2a" stroke="#2a2a2a" stroke-width="0.45">2</text>
<text x="982.30" y="320.50" font-size="21" font-weight="normal" text-anchor="start" fill="#2a2a2a" stroke="#2a2a2a" stroke-width="0.45">1</text>
<text x="982.30" y="391.90" font-size="21" font-weight="normal" text-anchor="start" fill="#2a2a2a" stroke="#2a2a2a" stroke-width="0.45">0</text>
<text x="982.30" y="463.30" font-size="21" font-weight="normal" text-anchor="start" fill="#2a2a2a" stroke="#2a2a2a" stroke-width="0.45">−1</text>
<text x="982.30" y="534.60" font-size="21" font-weight="normal" text-anchor="start" fill="#2a2a2a" stroke="#2a2a2a" stroke-width="0.45">−2</text>
<text x="1013.90" y="240.80" font-size="21.4" font-weight="bold" text-anchor="start" fill="#222" >Stimulation</text>
<rect x="1014.20" y="247.90" width="30.00" height="31.00" fill="#58d3da" stroke="#9a9a9a" stroke-width="1"/>
<rect x="1014.20" y="278.90" width="30.00" height="31.00" fill="#ef8e87" stroke="#9a9a9a" stroke-width="1"/>
<text x="1050.40" y="269.70" font-size="21" font-weight="normal" text-anchor="start" fill="#2a2a2a" letter-spacing="0.3" stroke="#2a2a2a" stroke-width="0.45">DMSO</text>
<text x="1050.40" y="300.30" font-size="21" font-weight="normal" text-anchor="start" fill="#2a2a2a" letter-spacing="0.3" stroke="#2a2a2a" stroke-width="0.45">T007</text>
</g>
<text x="1353.80" y="71.20" font-size="41.65" font-weight="bold" text-anchor="start" fill="#000" word-spacing="-0.35">D. Response to type I IFN</text>
<rect x="1308.10" y="229.60" width="39.38" height="21.70" fill="#60d6de" stroke="#999999" stroke-width="1.3"/>
<rect x="1347.48" y="229.60" width="39.38" height="21.70" fill="#60d6de" stroke="#999999" stroke-width="1.3"/>
<rect x="1386.86" y="229.60" width="39.38" height="21.70" fill="#60d6de" stroke="#999999" stroke-width="1.3"/>
<rect x="1426.24" y="229.60" width="39.38" height="21.70" fill="#60d6de" stroke="#999999" stroke-width="1.3"/>
<rect x="1465.62" y="229.60" width="39.38" height="21.70" fill="#60d6de" stroke="#999999" stroke-width="1.3"/>
<rect x="1505.00" y="229.60" width="39.38" height="21.70" fill="#60d6de" stroke="#999999" stroke-width="1.3"/>
<rect x="1544.38" y="229.60" width="39.38" height="21.70" fill="#60d6de" stroke="#999999" stroke-width="1.3"/>
<rect x="1583.76" y="229.60" width="39.38" height="21.70" fill="#f0958c" stroke="#999999" stroke-width="1.3"/>
<rect x="1623.14" y="229.60" width="39.38" height="21.70" fill="#f0958c" stroke="#999999" stroke-width="1.3"/>
<rect x="1662.52" y="229.60" width="39.38" height="21.70" fill="#f0958c" stroke="#999999" stroke-width="1.3"/>
<rect x="1701.90" y="229.60" width="39.38" height="21.70" fill="#f0958c" stroke="#999999" stroke-width="1.3"/>
<rect x="1741.28" y="229.60" width="39.38" height="21.70" fill="#f0958c" stroke="#999999" stroke-width="1.3"/>
<rect x="1780.66" y="229.60" width="39.38" height="21.70" fill="#60d6de" stroke="#999999" stroke-width="1.3"/>
<rect x="1820.04" y="229.60" width="39.38" height="21.70" fill="#f0958c" stroke="#999999" stroke-width="1.3"/>
<rect x="1859.42" y="229.60" width="39.38" height="21.70" fill="#f0958c" stroke="#999999" stroke-width="1.3"/>
<rect x="1898.80" y="229.60" width="39.38" height="21.70" fill="#f0958c" stroke="#999999" stroke-width="1.3"/>
<rect x="1308.10" y="257.70" width="39.38" height="24.35" fill="#fbe19e" stroke="#999999" stroke-width="1.3"/>
<rect x="1347.48" y="257.70" width="39.38" height="24.35" fill="#fceeb0" stroke="#999999" stroke-width="1.3"/>
<rect x="1386.86" y="257.70" width="39.38" height="24.35" fill="#fbe4a1" stroke="#999999" stroke-width="1.3"/>
<rect x="1426.24" y="257.70" width="39.38" height="24.35" fill="#fae09c" stroke="#999999" stroke-width="1.3"/>
<rect x="1465.62" y="257.70" width="39.38" height="24.35" fill="#f4f7d2" stroke="#999999" stroke-width="1.3"/>
<rect x="1505.00" y="257.70" width="39.38" height="24.35" fill="#f4bf83" stroke="#999999" stroke-width="1.3"/>
<rect x="1544.38" y="257.70" width="39.38" height="24.35" fill="#f8d08f" stroke="#999999" stroke-width="1.3"/>
<rect x="1583.76" y="257.70" width="39.38" height="24.35" fill="#e8f1e3" stroke="#999999" stroke-width="1.3"/>
<rect x="1623.14" y="257.70" width="39.38" height="24.35" fill="#769eca" stroke="#999999" stroke-width="1.3"/>
<rect x="1662.52" y="257.70" width="39.38" height="24.35" fill="#ddecf4" stroke="#999999" stroke-width="1.3"/>
<rect x="1701.90" y="257.70" width="39.38" height="24.35" fill="#cce0ed" stroke="#999999" stroke-width="1.3"/>
<rect x="1741.28" y="257.70" width="39.38" height="24.35" fill="#fcfac8" stroke="#999999" stroke-width="1.3"/>
<rect x="1780.66" y="257.70" width="39.38" height="24.35" fill="#fceaa9" stroke="#999999" stroke-width="1.3"/>
<rect x="1820.04" y="257.70" width="39.38" height="24.35" fill="#e2eff1" stroke="#999999" stroke-width="1.3"/>
<rect x="1859.42" y="257.70" width="39.38" height="24.35" fill="#fcebaa" stroke="#999999" stroke-width="1.3"/>
<rect x="1898.80" y="257.70" width="39.38" height="24.35" fill="#fbe4a1" stroke="#999999" stroke-width="1.3"/>
<rect x="1308.10" y="282.05" width="39.38" height="24.35" fill="#fdf3b7" stroke="#999999" stroke-width="1.3"/>
<rect x="1347.48" y="282.05" width="39.38" height="24.35" fill="#fdf0b2" stroke="#999999" stroke-width="1.3"/>
<rect x="1386.86" y="282.05" width="39.38" height="24.35" fill="#fefac3" stroke="#999999" stroke-width="1.3"/>
<rect x="1426.24" y="282.05" width="39.38" height="24.35" fill="#fef7be" stroke="#999999" stroke-width="1.3"/>
<rect x="1465.62" y="282.05" width="39.38" height="24.35" fill="#eef4db" stroke="#999999" stroke-width="1.3"/>
<rect x="1505.00" y="282.05" width="39.38" height="24.35" fill="#f6c789" stroke="#999999" stroke-width="1.3"/>
<rect x="1544.38" y="282.05" width="39.38" height="24.35" fill="#ed9466" stroke="#999999" stroke-width="1.3"/>
<rect x="1583.76" y="282.05" width="39.38" height="24.35" fill="#e7f1e5" stroke="#999999" stroke-width="1.3"/>
<rect x="1623.14" y="282.05" width="39.38" height="24.35" fill="#a8c6df" stroke="#999999" stroke-width="1.3"/>
<rect x="1662.52" y="282.05" width="39.38" height="24.35" fill="#a6c4dd" stroke="#999999" stroke-width="1.3"/>
<rect x="1701.90" y="282.05" width="39.38" height="24.35" fill="#fdfac6" stroke="#999999" stroke-width="1.3"/>
<rect x="1741.28" y="282.05" width="39.38" height="24.35" fill="#fdefb1" stroke="#999999" stroke-width="1.3"/>
<rect x="1780.66" y="282.05" width="39.38" height="24.35" fill="#f8d08f" stroke="#999999" stroke-width="1.3"/>
<rect x="1820.04" y="282.05" width="39.38" height="24.35" fill="#e6f0e8" stroke="#999999" stroke-width="1.3"/>
<rect x="1859.42" y="282.05" width="39.38" height="24.35" fill="#fbe19e" stroke="#999999" stroke-width="1.3"/>
<rect x="1898.80" y="282.05" width="39.38" height="24.35" fill="#f2f6d6" stroke="#999999" stroke-width="1.3"/>
<rect x="1308.10" y="306.40" width="39.38" height="24.35" fill="#f7f8cf" stroke="#999999" stroke-width="1.3"/>
<rect x="1347.48" y="306.40" width="39.38" height="24.35" fill="#eef4db" stroke="#999999" stroke-width="1.3"/>
<rect x="1386.86" y="306.40" width="39.38" height="24.35" fill="#fceeb0" stroke="#999999" stroke-width="1.3"/>
<rect x="1426.24" y="306.40" width="39.38" height="24.35" fill="#fdefb1" stroke="#999999" stroke-width="1.3"/>
<rect x="1465.62" y="306.40" width="39.38" height="24.35" fill="#f9d694" stroke="#999999" stroke-width="1.3"/>
<rect x="1505.00" y="306.40" width="39.38" height="24.35" fill="#fbe4a1" stroke="#999999" stroke-width="1.3"/>
<rect x="1544.38" y="306.40" width="39.38" height="24.35" fill="#fbe19e" stroke="#999999" stroke-width="1.3"/>
<rect x="1583.76" y="306.40" width="39.38" height="24.35" fill="#9abbd9" stroke="#999999" stroke-width="1.3"/>
<rect x="1623.14" y="306.40" width="39.38" height="24.35" fill="#b2cee3" stroke="#999999" stroke-width="1.3"/>
<rect x="1662.52" y="306.40" width="39.38" height="24.35" fill="#e1eef3" stroke="#999999" stroke-width="1.3"/>
<rect x="1701.90" y="306.40" width="39.38" height="24.35" fill="#c0d7e7" stroke="#999999" stroke-width="1.3"/>
<rect x="1741.28" y="306.40" width="39.38" height="24.35" fill="#f9d996" stroke="#999999" stroke-width="1.3"/>
<rect x="1780.66" y="306.40" width="39.38" height="24.35" fill="#f2b47b" stroke="#999999" stroke-width="1.3"/>
<rect x="1820.04" y="306.40" width="39.38" height="24.35" fill="#fdf0b2" stroke="#999999" stroke-width="1.3"/>
<rect x="1859.42" y="306.40" width="39.38" height="24.35" fill="#fdf0b2" stroke="#999999" stroke-width="1.3"/>
<rect x="1898.80" y="306.40" width="39.38" height="24.35" fill="#fceeb0" stroke="#999999" stroke-width="1.3"/>
<rect x="1308.10" y="330.75" width="39.38" height="24.35" fill="#f9d996" stroke="#999999" stroke-width="1.3"/>
<rect x="1347.48" y="330.75" width="39.38" height="24.35" fill="#fadd99" stroke="#999999" stroke-width="1.3"/>
<rect x="1386.86" y="330.75" width="39.38" height="24.35" fill="#fbe19e" stroke="#999999" stroke-width="1.3"/>
<rect x="1426.24" y="330.75" width="39.38" height="24.35" fill="#fbe29f" stroke="#999999" stroke-width="1.3"/>
<rect x="1465.62" y="330.75" width="39.38" height="24.35" fill="#fbe19e" stroke="#999999" stroke-width="1.3"/>
<rect x="1505.00" y="330.75" width="39.38" height="24.35" fill="#fdf2b6" stroke="#999999" stroke-width="1.3"/>
<rect x="1544.38" y="330.75" width="39.38" height="24.35" fill="#fbe6a4" stroke="#999999" stroke-width="1.3"/>
<rect x="1583.76" y="330.75" width="39.38" height="24.35" fill="#c7dcea" stroke="#999999" stroke-width="1.3"/>
<rect x="1623.14" y="330.75" width="39.38" height="24.35" fill="#bbd4e6" stroke="#999999" stroke-width="1.3"/>
<rect x="1662.52" y="330.75" width="39.38" height="24.35" fill="#c0d7e7" stroke="#999999" stroke-width="1.3"/>
<rect x="1701.90" y="330.75" width="39.38" height="24.35" fill="#92b4d5" stroke="#999999" stroke-width="1.3"/>
<rect x="1741.28" y="330.75" width="39.38" height="24.35" fill="#f3f6d4" stroke="#999999" stroke-width="1.3"/>
<rect x="1780.66" y="330.75" width="39.38" height="24.35" fill="#fcebaa" stroke="#999999" stroke-width="1.3"/>
<rect x="1820.04" y="330.75" width="39.38" height="24.35" fill="#fae09c" stroke="#999999" stroke-width="1.3"/>
<rect x="1859.42" y="330.75" width="39.38" height="24.35" fill="#fef6bd" stroke="#999999" stroke-width="1.3"/>
<rect x="1898.80" y="330.75" width="39.38" height="24.35" fill="#fefac3" stroke="#999999" stroke-width="1.3"/>
<rect x="1308.10" y="355.10" width="39.38" height="24.35" fill="#f8d291" stroke="#999999" stroke-width="1.3"/>
<rect x="1347.48" y="355.10" width="39.38" height="24.35" fill="#f6c98b" stroke="#999999" stroke-width="1.3"/>
<rect x="1386.86" y="355.10" width="39.38" height="24.35" fill="#f8f8cd" stroke="#999999" stroke-width="1.3"/>
<rect x="1426.24" y="355.10" width="39.38" height="24.35" fill="#fef7be" stroke="#999999" stroke-width="1.3"/>
<rect x="1465.62" y="355.10" width="39.38" height="24.35" fill="#fade9b" stroke="#999999" stroke-width="1.3"/>
<rect x="1505.00" y="355.10" width="39.38" height="24.35" fill="#fce7a6" stroke="#999999" stroke-width="1.3"/>
<rect x="1544.38" y="355.10" width="39.38" height="24.35" fill="#f1b179" stroke="#999999" stroke-width="1.3"/>
<rect x="1583.76" y="355.10" width="39.38" height="24.35" fill="#d8e8f1" stroke="#999999" stroke-width="1.3"/>
<rect x="1623.14" y="355.10" width="39.38" height="24.35" fill="#cce0ed" stroke="#999999" stroke-width="1.3"/>
<rect x="1662.52" y="355.10" width="39.38" height="24.35" fill="#b0cce2" stroke="#999999" stroke-width="1.3"/>
<rect x="1701.90" y="355.10" width="39.38" height="24.35" fill="#a6c4dd" stroke="#999999" stroke-width="1.3"/>
<rect x="1741.28" y="355.10" width="39.38" height="24.35" fill="#e6f0e7" stroke="#999999" stroke-width="1.3"/>
<rect x="1780.66" y="355.10" width="39.38" height="24.35" fill="#fce9a7" stroke="#999999" stroke-width="1.3"/>
<rect x="1820.04" y="355.10" width="39.38" height="24.35" fill="#fefbc4" stroke="#999999" stroke-width="1.3"/>
<rect x="1859.42" y="355.10" width="39.38" height="24.35" fill="#fdf1b5" stroke="#999999" stroke-width="1.3"/>
<rect x="1898.80" y="355.10" width="39.38" height="24.35" fill="#fdf1b5" stroke="#999999" stroke-width="1.3"/>
<rect x="1308.10" y="379.45" width="39.38" height="24.35" fill="#fade9b" stroke="#999999" stroke-width="1.3"/>
<rect x="1347.48" y="379.45" width="39.38" height="24.35" fill="#fbe4a1" stroke="#999999" stroke-width="1.3"/>
<rect x="1386.86" y="379.45" width="39.38" height="24.35" fill="#fafac9" stroke="#999999" stroke-width="1.3"/>
<rect x="1426.24" y="379.45" width="39.38" height="24.35" fill="#fdf2b6" stroke="#999999" stroke-width="1.3"/>
<rect x="1465.62" y="379.45" width="39.38" height="24.35" fill="#f9d694" stroke="#999999" stroke-width="1.3"/>
<rect x="1505.00" y="379.45" width="39.38" height="24.35" fill="#f8d493" stroke="#999999" stroke-width="1.3"/>
<rect x="1544.38" y="379.45" width="39.38" height="24.35" fill="#fbe29f" stroke="#999999" stroke-width="1.3"/>
<rect x="1583.76" y="379.45" width="39.38" height="24.35" fill="#e0eef5" stroke="#999999" stroke-width="1.3"/>
<rect x="1623.14" y="379.45" width="39.38" height="24.35" fill="#aecbe1" stroke="#999999" stroke-width="1.3"/>
<rect x="1662.52" y="379.45" width="39.38" height="24.35" fill="#a3c2dc" stroke="#999999" stroke-width="1.3"/>
<rect x="1701.90" y="379.45" width="39.38" height="24.35" fill="#a0c0db" stroke="#999999" stroke-width="1.3"/>
<rect x="1741.28" y="379.45" width="39.38" height="24.35" fill="#fceeb0" stroke="#999999" stroke-width="1.3"/>
<rect x="1780.66" y="379.45" width="39.38" height="24.35" fill="#fade9b" stroke="#999999" stroke-width="1.3"/>
<rect x="1820.04" y="379.45" width="39.38" height="24.35" fill="#fdf2b6" stroke="#999999" stroke-width="1.3"/>
<rect x="1859.42" y="379.45" width="39.38" height="24.35" fill="#fdefb1" stroke="#999999" stroke-width="1.3"/>
<rect x="1898.80" y="379.45" width="39.38" height="24.35" fill="#fef9c1" stroke="#999999" stroke-width="1.3"/>
<rect x="1308.10" y="403.80" width="39.38" height="24.35" fill="#fdf4b9" stroke="#999999" stroke-width="1.3"/>
<rect x="1347.48" y="403.80" width="39.38" height="24.35" fill="#ed9768" stroke="#999999" stroke-width="1.3"/>
<rect x="1386.86" y="403.80" width="39.38" height="24.35" fill="#fade9b" stroke="#999999" stroke-width="1.3"/>
<rect x="1426.24" y="403.80" width="39.38" height="24.35" fill="#e3efee" stroke="#999999" stroke-width="1.3"/>
<rect x="1465.62" y="403.80" width="39.38" height="24.35" fill="#f3f6d4" stroke="#999999" stroke-width="1.3"/>
<rect x="1505.00" y="403.80" width="39.38" height="24.35" fill="#fadb97" stroke="#999999" stroke-width="1.3"/>
<rect x="1544.38" y="403.80" width="39.38" height="24.35" fill="#f9d694" stroke="#999999" stroke-width="1.3"/>
<rect x="1583.76" y="403.80" width="39.38" height="24.35" fill="#e8f1e3" stroke="#999999" stroke-width="1.3"/>
<rect x="1623.14" y="403.80" width="39.38" height="24.35" fill="#fdf4b9" stroke="#999999" stroke-width="1.3"/>
<rect x="1662.52" y="403.80" width="39.38" height="24.35" fill="#fefac3" stroke="#999999" stroke-width="1.3"/>
<rect x="1701.90" y="403.80" width="39.38" height="24.35" fill="#c4dae9" stroke="#999999" stroke-width="1.3"/>
<rect x="1741.28" y="403.80" width="39.38" height="24.35" fill="#abc9e0" stroke="#999999" stroke-width="1.3"/>
<rect x="1780.66" y="403.80" width="39.38" height="24.35" fill="#c4dae9" stroke="#999999" stroke-width="1.3"/>
<rect x="1820.04" y="403.80" width="39.38" height="24.35" fill="#f3f6d4" stroke="#999999" stroke-width="1.3"/>
<rect x="1859.42" y="403.80" width="39.38" height="24.35" fill="#fade9b" stroke="#999999" stroke-width="1.3"/>
<rect x="1898.80" y="403.80" width="39.38" height="24.35" fill="#fbe4a1" stroke="#999999" stroke-width="1.3"/>
<rect x="1308.10" y="428.15" width="39.38" height="24.35" fill="#ec8e62" stroke="#999999" stroke-width="1.3"/>
<rect x="1347.48" y="428.15" width="39.38" height="24.35" fill="#de6749" stroke="#999999" stroke-width="1.3"/>
<rect x="1386.86" y="428.15" width="39.38" height="24.35" fill="#fcfac8" stroke="#999999" stroke-width="1.3"/>
<rect x="1426.24" y="428.15" width="39.38" height="24.35" fill="#fadd99" stroke="#999999" stroke-width="1.3"/>
<rect x="1465.62" y="428.15" width="39.38" height="24.35" fill="#fefac3" stroke="#999999" stroke-width="1.3"/>
<rect x="1505.00" y="428.15" width="39.38" height="24.35" fill="#ecf3de" stroke="#999999" stroke-width="1.3"/>
<rect x="1544.38" y="428.15" width="39.38" height="24.35" fill="#fefac3" stroke="#999999" stroke-width="1.3"/>
<rect x="1583.76" y="428.15" width="39.38" height="24.35" fill="#f6f8d1" stroke="#999999" stroke-width="1.3"/>
<rect x="1623.14" y="428.15" width="39.38" height="24.35" fill="#fef6bd" stroke="#999999" stroke-width="1.3"/>
<rect x="1662.52" y="428.15" width="39.38" height="24.35" fill="#cfe2ee" stroke="#999999" stroke-width="1.3"/>
<rect x="1701.90" y="428.15" width="39.38" height="24.35" fill="#eff4da" stroke="#999999" stroke-width="1.3"/>
<rect x="1741.28" y="428.15" width="39.38" height="24.35" fill="#fcfac8" stroke="#999999" stroke-width="1.3"/>
<rect x="1780.66" y="428.15" width="39.38" height="24.35" fill="#fefac3" stroke="#999999" stroke-width="1.3"/>
<rect x="1820.04" y="428.15" width="39.38" height="24.35" fill="#e3efee" stroke="#999999" stroke-width="1.3"/>
<rect x="1859.42" y="428.15" width="39.38" height="24.35" fill="#d5e6f0" stroke="#999999" stroke-width="1.3"/>
<rect x="1898.80" y="428.15" width="39.38" height="24.35" fill="#e7f1e5" stroke="#999999" stroke-width="1.3"/>
<rect x="1308.10" y="452.50" width="39.38" height="24.35" fill="#ee9a6a" stroke="#999999" stroke-width="1.3"/>
<rect x="1347.48" y="452.50" width="39.38" height="24.35" fill="#ec9164" stroke="#999999" stroke-width="1.3"/>
<rect x="1386.86" y="452.50" width="39.38" height="24.35" fill="#fdefb1" stroke="#999999" stroke-width="1.3"/>
<rect x="1426.24" y="452.50" width="39.38" height="24.35" fill="#f3ba7f" stroke="#999999" stroke-width="1.3"/>
<rect x="1465.62" y="452.50" width="39.38" height="24.35" fill="#fefac3" stroke="#999999" stroke-width="1.3"/>
<rect x="1505.00" y="452.50" width="39.38" height="24.35" fill="#fdf3b7" stroke="#999999" stroke-width="1.3"/>
<rect x="1544.38" y="452.50" width="39.38" height="24.35" fill="#fdf0b2" stroke="#999999" stroke-width="1.3"/>
<rect x="1583.76" y="452.50" width="39.38" height="24.35" fill="#f4f7d2" stroke="#999999" stroke-width="1.3"/>
<rect x="1623.14" y="452.50" width="39.38" height="24.35" fill="#edf4dc" stroke="#999999" stroke-width="1.3"/>
<rect x="1662.52" y="452.50" width="39.38" height="24.35" fill="#b5d0e3" stroke="#999999" stroke-width="1.3"/>
<rect x="1701.90" y="452.50" width="39.38" height="24.35" fill="#e6f0e7" stroke="#999999" stroke-width="1.3"/>
<rect x="1741.28" y="452.50" width="39.38" height="24.35" fill="#f7f8cf" stroke="#999999" stroke-width="1.3"/>
<rect x="1780.66" y="452.50" width="39.38" height="24.35" fill="#fceaa9" stroke="#999999" stroke-width="1.3"/>
<rect x="1820.04" y="452.50" width="39.38" height="24.35" fill="#ddecf4" stroke="#999999" stroke-width="1.3"/>
<rect x="1859.42" y="452.50" width="39.38" height="24.35" fill="#ebf2df" stroke="#999999" stroke-width="1.3"/>
<rect x="1898.80" y="452.50" width="39.38" height="24.35" fill="#e0eef5" stroke="#999999" stroke-width="1.3"/>
<rect x="1308.10" y="476.85" width="39.38" height="24.35" fill="#ea875d" stroke="#999999" stroke-width="1.3"/>
<rect x="1347.48" y="476.85" width="39.38" height="24.35" fill="#ee9d6c" stroke="#999999" stroke-width="1.3"/>
<rect x="1386.86" y="476.85" width="39.38" height="24.35" fill="#fdefb1" stroke="#999999" stroke-width="1.3"/>
<rect x="1426.24" y="476.85" width="39.38" height="24.35" fill="#fadd99" stroke="#999999" stroke-width="1.3"/>
<rect x="1465.62" y="476.85" width="39.38" height="24.35" fill="#fbe4a1" stroke="#999999" stroke-width="1.3"/>
<rect x="1505.00" y="476.85" width="39.38" height="24.35" fill="#fef9c1" stroke="#999999" stroke-width="1.3"/>
<rect x="1544.38" y="476.85" width="39.38" height="24.35" fill="#f8f8cd" stroke="#999999" stroke-width="1.3"/>
<rect x="1583.76" y="476.85" width="39.38" height="24.35" fill="#fef8c0" stroke="#999999" stroke-width="1.3"/>
<rect x="1623.14" y="476.85" width="39.38" height="24.35" fill="#e2eff0" stroke="#999999" stroke-width="1.3"/>
<rect x="1662.52" y="476.85" width="39.38" height="24.35" fill="#c4dae9" stroke="#999999" stroke-width="1.3"/>
<rect x="1701.90" y="476.85" width="39.38" height="24.35" fill="#d8e8f1" stroke="#999999" stroke-width="1.3"/>
<rect x="1741.28" y="476.85" width="39.38" height="24.35" fill="#f2f6d6" stroke="#999999" stroke-width="1.3"/>
<rect x="1780.66" y="476.85" width="39.38" height="24.35" fill="#fce9a7" stroke="#999999" stroke-width="1.3"/>
<rect x="1820.04" y="476.85" width="39.38" height="24.35" fill="#ecf3de" stroke="#999999" stroke-width="1.3"/>
<rect x="1859.42" y="476.85" width="39.38" height="24.35" fill="#e8f1e3" stroke="#999999" stroke-width="1.3"/>
<rect x="1898.80" y="476.85" width="39.38" height="24.35" fill="#cadeeb" stroke="#999999" stroke-width="1.3"/>
<rect x="1308.10" y="501.20" width="39.38" height="24.35" fill="#ea895e" stroke="#999999" stroke-width="1.3"/>
<rect x="1347.48" y="501.20" width="39.38" height="24.35" fill="#ec9164" stroke="#999999" stroke-width="1.3"/>
<rect x="1386.86" y="501.20" width="39.38" height="24.35" fill="#fbe5a3" stroke="#999999" stroke-width="1.3"/>
<rect x="1426.24" y="501.20" width="39.38" height="24.35" fill="#f6c789" stroke="#999999" stroke-width="1.3"/>
<rect x="1465.62" y="501.20" width="39.38" height="24.35" fill="#fef7be" stroke="#999999" stroke-width="1.3"/>
<rect x="1505.00" y="501.20" width="39.38" height="24.35" fill="#f8f8cd" stroke="#999999" stroke-width="1.3"/>
<rect x="1544.38" y="501.20" width="39.38" height="24.35" fill="#fefac3" stroke="#999999" stroke-width="1.3"/>
<rect x="1583.76" y="501.20" width="39.38" height="24.35" fill="#fef9c1" stroke="#999999" stroke-width="1.3"/>
<rect x="1623.14" y="501.20" width="39.38" height="24.35" fill="#f0f5d9" stroke="#999999" stroke-width="1.3"/>
<rect x="1662.52" y="501.20" width="39.38" height="24.35" fill="#e1eef3" stroke="#999999" stroke-width="1.3"/>
<rect x="1701.90" y="501.20" width="39.38" height="24.35" fill="#fdfac6" stroke="#999999" stroke-width="1.3"/>
<rect x="1741.28" y="501.20" width="39.38" height="24.35" fill="#e6f0e7" stroke="#999999" stroke-width="1.3"/>
<rect x="1780.66" y="501.20" width="39.38" height="24.35" fill="#f9f9cb" stroke="#999999" stroke-width="1.3"/>
<rect x="1820.04" y="501.20" width="39.38" height="24.35" fill="#ecf3de" stroke="#999999" stroke-width="1.3"/>
<rect x="1859.42" y="501.20" width="39.38" height="24.35" fill="#c0d7e7" stroke="#999999" stroke-width="1.3"/>
<rect x="1898.80" y="501.20" width="39.38" height="24.35" fill="#cce0ed" stroke="#999999" stroke-width="1.3"/>
<rect x="1308.10" y="525.55" width="39.38" height="24.35" fill="#eb8c61" stroke="#999999" stroke-width="1.3"/>
<rect x="1347.48" y="525.55" width="39.38" height="24.35" fill="#efa671" stroke="#999999" stroke-width="1.3"/>
<rect x="1386.86" y="525.55" width="39.38" height="24.35" fill="#fdf3b7" stroke="#999999" stroke-width="1.3"/>
<rect x="1426.24" y="525.55" width="39.38" height="24.35" fill="#f2b77d" stroke="#999999" stroke-width="1.3"/>
<rect x="1465.62" y="525.55" width="39.38" height="24.35" fill="#fcedae" stroke="#999999" stroke-width="1.3"/>
<rect x="1505.00" y="525.55" width="39.38" height="24.35" fill="#fdf6bc" stroke="#999999" stroke-width="1.3"/>
<rect x="1544.38" y="525.55" width="39.38" height="24.35" fill="#fdf6bc" stroke="#999999" stroke-width="1.3"/>
<rect x="1583.76" y="525.55" width="39.38" height="24.35" fill="#fdf4b9" stroke="#999999" stroke-width="1.3"/>
<rect x="1623.14" y="525.55" width="39.38" height="24.35" fill="#eef4db" stroke="#999999" stroke-width="1.3"/>
<rect x="1662.52" y="525.55" width="39.38" height="24.35" fill="#b2cee3" stroke="#999999" stroke-width="1.3"/>
<rect x="1701.90" y="525.55" width="39.38" height="24.35" fill="#e6f0e7" stroke="#999999" stroke-width="1.3"/>
<rect x="1741.28" y="525.55" width="39.38" height="24.35" fill="#e2eff1" stroke="#999999" stroke-width="1.3"/>
<rect x="1780.66" y="525.55" width="39.38" height="24.35" fill="#fefbc4" stroke="#999999" stroke-width="1.3"/>
<rect x="1820.04" y="525.55" width="39.38" height="24.35" fill="#e9f2e2" stroke="#999999" stroke-width="1.3"/>
<rect x="1859.42" y="525.55" width="39.38" height="24.35" fill="#e4f0ec" stroke="#999999" stroke-width="1.3"/>
<rect x="1898.80" y="525.55" width="39.38" height="24.35" fill="#ebf2df" stroke="#999999" stroke-width="1.3"/>
<rect x="1308.10" y="549.90" width="39.38" height="24.35" fill="#ea895e" stroke="#999999" stroke-width="1.3"/>
<rect x="1347.48" y="549.90" width="39.38" height="24.35" fill="#ec8e62" stroke="#999999" stroke-width="1.3"/>
<rect x="1386.86" y="549.90" width="39.38" height="24.35" fill="#fdf6bc" stroke="#999999" stroke-width="1.3"/>
<rect x="1426.24" y="549.90" width="39.38" height="24.35" fill="#fade9b" stroke="#999999" stroke-width="1.3"/>
<rect x="1465.62" y="549.90" width="39.38" height="24.35" fill="#fdf0b2" stroke="#999999" stroke-width="1.3"/>
<rect x="1505.00" y="549.90" width="39.38" height="24.35" fill="#fdf6bc" stroke="#999999" stroke-width="1.3"/>
<rect x="1544.38" y="549.90" width="39.38" height="24.35" fill="#fef8c0" stroke="#999999" stroke-width="1.3"/>
<rect x="1583.76" y="549.90" width="39.38" height="24.35" fill="#fdf0b2" stroke="#999999" stroke-width="1.3"/>
<rect x="1623.14" y="549.90" width="39.38" height="24.35" fill="#fef9c1" stroke="#999999" stroke-width="1.3"/>
<rect x="1662.52" y="549.90" width="39.38" height="24.35" fill="#cce0ed" stroke="#999999" stroke-width="1.3"/>
<rect x="1701.90" y="549.90" width="39.38" height="24.35" fill="#edf4dc" stroke="#999999" stroke-width="1.3"/>
<rect x="1741.28" y="549.90" width="39.38" height="24.35" fill="#d2e4ef" stroke="#999999" stroke-width="1.3"/>
<rect x="1780.66" y="549.90" width="39.38" height="24.35" fill="#f6f8d1" stroke="#999999" stroke-width="1.3"/>
<rect x="1820.04" y="549.90" width="39.38" height="24.35" fill="#e9f2e2" stroke="#999999" stroke-width="1.3"/>
<rect x="1859.42" y="549.90" width="39.38" height="24.35" fill="#e1eef3" stroke="#999999" stroke-width="1.3"/>
<rect x="1898.80" y="549.90" width="39.38" height="24.35" fill="#cce0ed" stroke="#999999" stroke-width="1.3"/>
<rect x="1308.10" y="574.25" width="39.38" height="24.35" fill="#fef8c0" stroke="#999999" stroke-width="1.3"/>
<rect x="1347.48" y="574.25" width="39.38" height="24.35" fill="#ea875d" stroke="#999999" stroke-width="1.3"/>
<rect x="1386.86" y="574.25" width="39.38" height="24.35" fill="#fef6bd" stroke="#999999" stroke-width="1.3"/>
<rect x="1426.24" y="574.25" width="39.38" height="24.35" fill="#f5c487" stroke="#999999" stroke-width="1.3"/>
<rect x="1465.62" y="574.25" width="39.38" height="24.35" fill="#f8d08f" stroke="#999999" stroke-width="1.3"/>
<rect x="1505.00" y="574.25" width="39.38" height="24.35" fill="#eef4db" stroke="#999999" stroke-width="1.3"/>
<rect x="1544.38" y="574.25" width="39.38" height="24.35" fill="#fcebaa" stroke="#999999" stroke-width="1.3"/>
<rect x="1583.76" y="574.25" width="39.38" height="24.35" fill="#fefac3" stroke="#999999" stroke-width="1.3"/>
<rect x="1623.14" y="574.25" width="39.38" height="24.35" fill="#fefac3" stroke="#999999" stroke-width="1.3"/>
<rect x="1662.52" y="574.25" width="39.38" height="24.35" fill="#95b6d6" stroke="#999999" stroke-width="1.3"/>
<rect x="1701.90" y="574.25" width="39.38" height="24.35" fill="#f9f9cb" stroke="#999999" stroke-width="1.3"/>
<rect x="1741.28" y="574.25" width="39.38" height="24.35" fill="#cadeeb" stroke="#999999" stroke-width="1.3"/>
<rect x="1780.66" y="574.25" width="39.38" height="24.35" fill="#e7f1e5" stroke="#999999" stroke-width="1.3"/>
<rect x="1820.04" y="574.25" width="39.38" height="24.35" fill="#fcfac8" stroke="#999999" stroke-width="1.3"/>
<rect x="1859.42" y="574.25" width="39.38" height="24.35" fill="#e0eef5" stroke="#999999" stroke-width="1.3"/>
<rect x="1898.80" y="574.25" width="39.38" height="24.35" fill="#fbe19e" stroke="#999999" stroke-width="1.3"/>
<rect x="1308.10" y="598.60" width="39.38" height="24.35" fill="#ec8e62" stroke="#999999" stroke-width="1.3"/>
<rect x="1347.48" y="598.60" width="39.38" height="24.35" fill="#ed9466" stroke="#999999" stroke-width="1.3"/>
<rect x="1386.86" y="598.60" width="39.38" height="24.35" fill="#fef7be" stroke="#999999" stroke-width="1.3"/>
<rect x="1426.24" y="598.60" width="39.38" height="24.35" fill="#fbe19e" stroke="#999999" stroke-width="1.3"/>
<rect x="1465.62" y="598.60" width="39.38" height="24.35" fill="#fae09c" stroke="#999999" stroke-width="1.3"/>
<rect x="1505.00" y="598.60" width="39.38" height="24.35" fill="#fdf0b2" stroke="#999999" stroke-width="1.3"/>
<rect x="1544.38" y="598.60" width="39.38" height="24.35" fill="#fdf0b2" stroke="#999999" stroke-width="1.3"/>
<rect x="1583.76" y="598.60" width="39.38" height="24.35" fill="#fdf4b9" stroke="#999999" stroke-width="1.3"/>
<rect x="1623.14" y="598.60" width="39.38" height="24.35" fill="#f0f5d9" stroke="#999999" stroke-width="1.3"/>
<rect x="1662.52" y="598.60" width="39.38" height="24.35" fill="#daeaf3" stroke="#999999" stroke-width="1.3"/>
<rect x="1701.90" y="598.60" width="39.38" height="24.35" fill="#e0eef5" stroke="#999999" stroke-width="1.3"/>
<rect x="1741.28" y="598.60" width="39.38" height="24.35" fill="#b5d0e3" stroke="#999999" stroke-width="1.3"/>
<rect x="1780.66" y="598.60" width="39.38" height="24.35" fill="#eaf2e0" stroke="#999999" stroke-width="1.3"/>
<rect x="1820.04" y="598.60" width="39.38" height="24.35" fill="#e8f1e3" stroke="#999999" stroke-width="1.3"/>
<rect x="1859.42" y="598.60" width="39.38" height="24.35" fill="#ebf2df" stroke="#999999" stroke-width="1.3"/>
<rect x="1898.80" y="598.60" width="39.38" height="24.35" fill="#f8f8cd" stroke="#999999" stroke-width="1.3"/>
<rect x="1308.10" y="622.95" width="39.38" height="24.35" fill="#f7cb8c" stroke="#999999" stroke-width="1.3"/>
<rect x="1347.48" y="622.95" width="39.38" height="24.35" fill="#e16f4e" stroke="#999999" stroke-width="1.3"/>
<rect x="1386.86" y="622.95" width="39.38" height="24.35" fill="#e4f0ec" stroke="#999999" stroke-width="1.3"/>
<rect x="1426.24" y="622.95" width="39.38" height="24.35" fill="#fce9a7" stroke="#999999" stroke-width="1.3"/>
<rect x="1465.62" y="622.95" width="39.38" height="24.35" fill="#f8d493" stroke="#999999" stroke-width="1.3"/>
<rect x="1505.00" y="622.95" width="39.38" height="24.35" fill="#fbe5a3" stroke="#999999" stroke-width="1.3"/>
<rect x="1544.38" y="622.95" width="39.38" height="24.35" fill="#fbe19e" stroke="#999999" stroke-width="1.3"/>
<rect x="1583.76" y="622.95" width="39.38" height="24.35" fill="#f0f5d9" stroke="#999999" stroke-width="1.3"/>
<rect x="1623.14" y="622.95" width="39.38" height="24.35" fill="#eff4da" stroke="#999999" stroke-width="1.3"/>
<rect x="1662.52" y="622.95" width="39.38" height="24.35" fill="#cce0ed" stroke="#999999" stroke-width="1.3"/>
<rect x="1701.90" y="622.95" width="39.38" height="24.35" fill="#e8f1e3" stroke="#999999" stroke-width="1.3"/>
<rect x="1741.28" y="622.95" width="39.38" height="24.35" fill="#b9d2e5" stroke="#999999" stroke-width="1.3"/>
<rect x="1780.66" y="622.95" width="39.38" height="24.35" fill="#ddecf4" stroke="#999999" stroke-width="1.3"/>
<rect x="1820.04" y="622.95" width="39.38" height="24.35" fill="#fdf0b3" stroke="#999999" stroke-width="1.3"/>
<rect x="1859.42" y="622.95" width="39.38" height="24.35" fill="#f8f8cd" stroke="#999999" stroke-width="1.3"/>
<rect x="1898.80" y="622.95" width="39.38" height="24.35" fill="#fafac9" stroke="#999999" stroke-width="1.3"/>
<rect x="1308.10" y="647.30" width="39.38" height="24.35" fill="#f0ac75" stroke="#999999" stroke-width="1.3"/>
<rect x="1347.48" y="647.30" width="39.38" height="24.35" fill="#eea06d" stroke="#999999" stroke-width="1.3"/>
<rect x="1386.86" y="647.30" width="39.38" height="24.35" fill="#fce9a7" stroke="#999999" stroke-width="1.3"/>
<rect x="1426.24" y="647.30" width="39.38" height="24.35" fill="#f6c98b" stroke="#999999" stroke-width="1.3"/>
<rect x="1465.62" y="647.30" width="39.38" height="24.35" fill="#fdf0b2" stroke="#999999" stroke-width="1.3"/>
<rect x="1505.00" y="647.30" width="39.38" height="24.35" fill="#fbe6a4" stroke="#999999" stroke-width="1.3"/>
<rect x="1544.38" y="647.30" width="39.38" height="24.35" fill="#fcebaa" stroke="#999999" stroke-width="1.3"/>
<rect x="1583.76" y="647.30" width="39.38" height="24.35" fill="#e2eff0" stroke="#999999" stroke-width="1.3"/>
<rect x="1623.14" y="647.30" width="39.38" height="24.35" fill="#c2d8e8" stroke="#999999" stroke-width="1.3"/>
<rect x="1662.52" y="647.30" width="39.38" height="24.35" fill="#b7d1e4" stroke="#999999" stroke-width="1.3"/>
<rect x="1701.90" y="647.30" width="39.38" height="24.35" fill="#cadeeb" stroke="#999999" stroke-width="1.3"/>
<rect x="1741.28" y="647.30" width="39.38" height="24.35" fill="#f0f5d9" stroke="#999999" stroke-width="1.3"/>
<rect x="1780.66" y="647.30" width="39.38" height="24.35" fill="#fdf2b6" stroke="#999999" stroke-width="1.3"/>
<rect x="1820.04" y="647.30" width="39.38" height="24.35" fill="#f6f8d1" stroke="#999999" stroke-width="1.3"/>
<rect x="1859.42" y="647.30" width="39.38" height="24.35" fill="#f8f8cd" stroke="#999999" stroke-width="1.3"/>
<rect x="1898.80" y="647.30" width="39.38" height="24.35" fill="#f2f6d6" stroke="#999999" stroke-width="1.3"/>
<rect x="1308.10" y="671.65" width="39.38" height="24.35" fill="#eb8c61" stroke="#999999" stroke-width="1.3"/>
<rect x="1347.48" y="671.65" width="39.38" height="24.35" fill="#ee9d6c" stroke="#999999" stroke-width="1.3"/>
<rect x="1386.86" y="671.65" width="39.38" height="24.35" fill="#fefbc4" stroke="#999999" stroke-width="1.3"/>
<rect x="1426.24" y="671.65" width="39.38" height="24.35" fill="#f6c98b" stroke="#999999" stroke-width="1.3"/>
<rect x="1465.62" y="671.65" width="39.38" height="24.35" fill="#fbe19e" stroke="#999999" stroke-width="1.3"/>
<rect x="1505.00" y="671.65" width="39.38" height="24.35" fill="#fceeb0" stroke="#999999" stroke-width="1.3"/>
<rect x="1544.38" y="671.65" width="39.38" height="24.35" fill="#fdf1b5" stroke="#999999" stroke-width="1.3"/>
<rect x="1583.76" y="671.65" width="39.38" height="24.35" fill="#f0f5d9" stroke="#999999" stroke-width="1.3"/>
<rect x="1623.14" y="671.65" width="39.38" height="24.35" fill="#d2e4ef" stroke="#999999" stroke-width="1.3"/>
<rect x="1662.52" y="671.65" width="39.38" height="24.35" fill="#c2d8e8" stroke="#999999" stroke-width="1.3"/>
<rect x="1701.90" y="671.65" width="39.38" height="24.35" fill="#d2e4ef" stroke="#999999" stroke-width="1.3"/>
<rect x="1741.28" y="671.65" width="39.38" height="24.35" fill="#e1eef3" stroke="#999999" stroke-width="1.3"/>
<rect x="1780.66" y="671.65" width="39.38" height="24.35" fill="#f8f8cd" stroke="#999999" stroke-width="1.3"/>
<rect x="1820.04" y="671.65" width="39.38" height="24.35" fill="#fcfac8" stroke="#999999" stroke-width="1.3"/>
<rect x="1859.42" y="671.65" width="39.38" height="24.35" fill="#f7f8cf" stroke="#999999" stroke-width="1.3"/>
<rect x="1898.80" y="671.65" width="39.38" height="24.35" fill="#f6f8d1" stroke="#999999" stroke-width="1.3"/>
<rect x="1308.10" y="696.00" width="39.38" height="24.35" fill="#ee9d6c" stroke="#999999" stroke-width="1.3"/>
<rect x="1347.48" y="696.00" width="39.38" height="24.35" fill="#f0ac75" stroke="#999999" stroke-width="1.3"/>
<rect x="1386.86" y="696.00" width="39.38" height="24.35" fill="#fcebaa" stroke="#999999" stroke-width="1.3"/>
<rect x="1426.24" y="696.00" width="39.38" height="24.35" fill="#f8d493" stroke="#999999" stroke-width="1.3"/>
<rect x="1465.62" y="696.00" width="39.38" height="24.35" fill="#fade9b" stroke="#999999" stroke-width="1.3"/>
<rect x="1505.00" y="696.00" width="39.38" height="24.35" fill="#fce9a7" stroke="#999999" stroke-width="1.3"/>
<rect x="1544.38" y="696.00" width="39.38" height="24.35" fill="#fdf0b2" stroke="#999999" stroke-width="1.3"/>
<rect x="1583.76" y="696.00" width="39.38" height="24.35" fill="#fdfac6" stroke="#999999" stroke-width="1.3"/>
<rect x="1623.14" y="696.00" width="39.38" height="24.35" fill="#cfe2ee" stroke="#999999" stroke-width="1.3"/>
<rect x="1662.52" y="696.00" width="39.38" height="24.35" fill="#a8c6df" stroke="#999999" stroke-width="1.3"/>
<rect x="1701.90" y="696.00" width="39.38" height="24.35" fill="#c4dae9" stroke="#999999" stroke-width="1.3"/>
<rect x="1741.28" y="696.00" width="39.38" height="24.35" fill="#e6f0e8" stroke="#999999" stroke-width="1.3"/>
<rect x="1780.66" y="696.00" width="39.38" height="24.35" fill="#fdf0b2" stroke="#999999" stroke-width="1.3"/>
<rect x="1820.04" y="696.00" width="39.38" height="24.35" fill="#f8f8cd" stroke="#999999" stroke-width="1.3"/>
<rect x="1859.42" y="696.00" width="39.38" height="24.35" fill="#eff4da" stroke="#999999" stroke-width="1.3"/>
<rect x="1898.80" y="696.00" width="39.38" height="24.35" fill="#e5f0ea" stroke="#999999" stroke-width="1.3"/>
<rect x="1308.10" y="720.35" width="39.38" height="24.35" fill="#eb8c61" stroke="#999999" stroke-width="1.3"/>
<rect x="1347.48" y="720.35" width="39.38" height="24.35" fill="#efa671" stroke="#999999" stroke-width="1.3"/>
<rect x="1386.86" y="720.35" width="39.38" height="24.35" fill="#fdf6bc" stroke="#999999" stroke-width="1.3"/>
<rect x="1426.24" y="720.35" width="39.38" height="24.35" fill="#f7ce8e" stroke="#999999" stroke-width="1.3"/>
<rect x="1465.62" y="720.35" width="39.38" height="24.35" fill="#fbe19e" stroke="#999999" stroke-width="1.3"/>
<rect x="1505.00" y="720.35" width="39.38" height="24.35" fill="#fdefb1" stroke="#999999" stroke-width="1.3"/>
<rect x="1544.38" y="720.35" width="39.38" height="24.35" fill="#fdf3b7" stroke="#999999" stroke-width="1.3"/>
<rect x="1583.76" y="720.35" width="39.38" height="24.35" fill="#f0f5d9" stroke="#999999" stroke-width="1.3"/>
<rect x="1623.14" y="720.35" width="39.38" height="24.35" fill="#d8e8f1" stroke="#999999" stroke-width="1.3"/>
<rect x="1662.52" y="720.35" width="39.38" height="24.35" fill="#b5d0e3" stroke="#999999" stroke-width="1.3"/>
<rect x="1701.90" y="720.35" width="39.38" height="24.35" fill="#cadeeb" stroke="#999999" stroke-width="1.3"/>
<rect x="1741.28" y="720.35" width="39.38" height="24.35" fill="#eff4da" stroke="#999999" stroke-width="1.3"/>
<rect x="1780.66" y="720.35" width="39.38" height="24.35" fill="#fdf1b5" stroke="#999999" stroke-width="1.3"/>
<rect x="1820.04" y="720.35" width="39.38" height="24.35" fill="#fefac3" stroke="#999999" stroke-width="1.3"/>
<rect x="1859.42" y="720.35" width="39.38" height="24.35" fill="#e6f0e7" stroke="#999999" stroke-width="1.3"/>
<rect x="1898.80" y="720.35" width="39.38" height="24.35" fill="#e9f2e2" stroke="#999999" stroke-width="1.3"/>
<rect x="1308.10" y="744.70" width="39.38" height="24.35" fill="#f8d291" stroke="#999999" stroke-width="1.3"/>
<rect x="1347.48" y="744.70" width="39.38" height="24.35" fill="#e77e57" stroke="#999999" stroke-width="1.3"/>
<rect x="1386.86" y="744.70" width="39.38" height="24.35" fill="#f9d694" stroke="#999999" stroke-width="1.3"/>
<rect x="1426.24" y="744.70" width="39.38" height="24.35" fill="#fadd99" stroke="#999999" stroke-width="1.3"/>
<rect x="1465.62" y="744.70" width="39.38" height="24.35" fill="#fdf0b2" stroke="#999999" stroke-width="1.3"/>
<rect x="1505.00" y="744.70" width="39.38" height="24.35" fill="#fefbc4" stroke="#999999" stroke-width="1.3"/>
<rect x="1544.38" y="744.70" width="39.38" height="24.35" fill="#fbe6a4" stroke="#999999" stroke-width="1.3"/>
<rect x="1583.76" y="744.70" width="39.38" height="24.35" fill="#e3efee" stroke="#999999" stroke-width="1.3"/>
<rect x="1623.14" y="744.70" width="39.38" height="24.35" fill="#cfe2ee" stroke="#999999" stroke-width="1.3"/>
<rect x="1662.52" y="744.70" width="39.38" height="24.35" fill="#c2d8e8" stroke="#999999" stroke-width="1.3"/>
<rect x="1701.90" y="744.70" width="39.38" height="24.35" fill="#aecbe1" stroke="#999999" stroke-width="1.3"/>
<rect x="1741.28" y="744.70" width="39.38" height="24.35" fill="#e7f1e5" stroke="#999999" stroke-width="1.3"/>
<rect x="1780.66" y="744.70" width="39.38" height="24.35" fill="#f7f8cf" stroke="#999999" stroke-width="1.3"/>
<rect x="1820.04" y="744.70" width="39.38" height="24.35" fill="#fefac3" stroke="#999999" stroke-width="1.3"/>
<rect x="1859.42" y="744.70" width="39.38" height="24.35" fill="#eff4da" stroke="#999999" stroke-width="1.3"/>
<rect x="1898.80" y="744.70" width="39.38" height="24.35" fill="#fef9c1" stroke="#999999" stroke-width="1.3"/>
<rect x="1308.10" y="769.05" width="39.38" height="24.35" fill="#fbe19e" stroke="#999999" stroke-width="1.3"/>
<rect x="1347.48" y="769.05" width="39.38" height="24.35" fill="#ec9164" stroke="#999999" stroke-width="1.3"/>
<rect x="1386.86" y="769.05" width="39.38" height="24.35" fill="#fdf3b7" stroke="#999999" stroke-width="1.3"/>
<rect x="1426.24" y="769.05" width="39.38" height="24.35" fill="#fbe6a4" stroke="#999999" stroke-width="1.3"/>
<rect x="1465.62" y="769.05" width="39.38" height="24.35" fill="#fadd99" stroke="#999999" stroke-width="1.3"/>
<rect x="1505.00" y="769.05" width="39.38" height="24.35" fill="#fbe6a4" stroke="#999999" stroke-width="1.3"/>
<rect x="1544.38" y="769.05" width="39.38" height="24.35" fill="#fbe5a3" stroke="#999999" stroke-width="1.3"/>
<rect x="1583.76" y="769.05" width="39.38" height="24.35" fill="#cce0ed" stroke="#999999" stroke-width="1.3"/>
<rect x="1623.14" y="769.05" width="39.38" height="24.35" fill="#ddecf4" stroke="#999999" stroke-width="1.3"/>
<rect x="1662.52" y="769.05" width="39.38" height="24.35" fill="#e0eef5" stroke="#999999" stroke-width="1.3"/>
<rect x="1701.90" y="769.05" width="39.38" height="24.35" fill="#a6c4dd" stroke="#999999" stroke-width="1.3"/>
<rect x="1741.28" y="769.05" width="39.38" height="24.35" fill="#d2e4ef" stroke="#999999" stroke-width="1.3"/>
<rect x="1780.66" y="769.05" width="39.38" height="24.35" fill="#f4f7d2" stroke="#999999" stroke-width="1.3"/>
<rect x="1820.04" y="769.05" width="39.38" height="24.35" fill="#fbe29f" stroke="#999999" stroke-width="1.3"/>
<rect x="1859.42" y="769.05" width="39.38" height="24.35" fill="#fef8c0" stroke="#999999" stroke-width="1.3"/>
<rect x="1898.80" y="769.05" width="39.38" height="24.35" fill="#fdf2b6" stroke="#999999" stroke-width="1.3"/>
<rect x="1308.10" y="793.40" width="39.38" height="24.35" fill="#ed9768" stroke="#999999" stroke-width="1.3"/>
<rect x="1347.48" y="793.40" width="39.38" height="24.35" fill="#ec8e62" stroke="#999999" stroke-width="1.3"/>
<rect x="1386.86" y="793.40" width="39.38" height="24.35" fill="#fef8c0" stroke="#999999" stroke-width="1.3"/>
<rect x="1426.24" y="793.40" width="39.38" height="24.35" fill="#fbe29f" stroke="#999999" stroke-width="1.3"/>
<rect x="1465.62" y="793.40" width="39.38" height="24.35" fill="#f3f6d4" stroke="#999999" stroke-width="1.3"/>
<rect x="1505.00" y="793.40" width="39.38" height="24.35" fill="#fce9a7" stroke="#999999" stroke-width="1.3"/>
<rect x="1544.38" y="793.40" width="39.38" height="24.35" fill="#fceaa9" stroke="#999999" stroke-width="1.3"/>
<rect x="1583.76" y="793.40" width="39.38" height="24.35" fill="#f6f8d1" stroke="#999999" stroke-width="1.3"/>
<rect x="1623.14" y="793.40" width="39.38" height="24.35" fill="#ecf3de" stroke="#999999" stroke-width="1.3"/>
<rect x="1662.52" y="793.40" width="39.38" height="24.35" fill="#ddecf4" stroke="#999999" stroke-width="1.3"/>
<rect x="1701.90" y="793.40" width="39.38" height="24.35" fill="#aecbe1" stroke="#999999" stroke-width="1.3"/>
<rect x="1741.28" y="793.40" width="39.38" height="24.35" fill="#eaf2e0" stroke="#999999" stroke-width="1.3"/>
<rect x="1780.66" y="793.40" width="39.38" height="24.35" fill="#f8f8cd" stroke="#999999" stroke-width="1.3"/>
<rect x="1820.04" y="793.40" width="39.38" height="24.35" fill="#c4dae9" stroke="#999999" stroke-width="1.3"/>
<rect x="1859.42" y="793.40" width="39.38" height="24.35" fill="#fdf1b5" stroke="#999999" stroke-width="1.3"/>
<rect x="1898.80" y="793.40" width="39.38" height="24.35" fill="#fdf1b5" stroke="#999999" stroke-width="1.3"/>
<rect x="1308.10" y="817.75" width="39.38" height="24.35" fill="#f4bc81" stroke="#999999" stroke-width="1.3"/>
<rect x="1347.48" y="817.75" width="39.38" height="24.35" fill="#fae09c" stroke="#999999" stroke-width="1.3"/>
<rect x="1386.86" y="817.75" width="39.38" height="24.35" fill="#fcfac8" stroke="#999999" stroke-width="1.3"/>
<rect x="1426.24" y="817.75" width="39.38" height="24.35" fill="#fef9c1" stroke="#999999" stroke-width="1.3"/>
<rect x="1465.62" y="817.75" width="39.38" height="24.35" fill="#f6c98b" stroke="#999999" stroke-width="1.3"/>
<rect x="1505.00" y="817.75" width="39.38" height="24.35" fill="#f9d996" stroke="#999999" stroke-width="1.3"/>
<rect x="1544.38" y="817.75" width="39.38" height="24.35" fill="#fadd99" stroke="#999999" stroke-width="1.3"/>
<rect x="1583.76" y="817.75" width="39.38" height="24.35" fill="#f3f6d4" stroke="#999999" stroke-width="1.3"/>
<rect x="1623.14" y="817.75" width="39.38" height="24.35" fill="#e2eff1" stroke="#999999" stroke-width="1.3"/>
<rect x="1662.52" y="817.75" width="39.38" height="24.35" fill="#9dbdda" stroke="#999999" stroke-width="1.3"/>
<rect x="1701.90" y="817.75" width="39.38" height="24.35" fill="#98b9d7" stroke="#999999" stroke-width="1.3"/>
<rect x="1741.28" y="817.75" width="39.38" height="24.35" fill="#fef8c0" stroke="#999999" stroke-width="1.3"/>
<rect x="1780.66" y="817.75" width="39.38" height="24.35" fill="#f9d996" stroke="#999999" stroke-width="1.3"/>
<rect x="1820.04" y="817.75" width="39.38" height="24.35" fill="#e9f2e2" stroke="#999999" stroke-width="1.3"/>
<rect x="1859.42" y="817.75" width="39.38" height="24.35" fill="#fefac3" stroke="#999999" stroke-width="1.3"/>
<rect x="1898.80" y="817.75" width="39.38" height="24.35" fill="#f0f5d9" stroke="#999999" stroke-width="1.3"/>
<rect x="1308.10" y="842.10" width="39.38" height="24.35" fill="#ee9d6c" stroke="#999999" stroke-width="1.3"/>
<rect x="1347.48" y="842.10" width="39.38" height="24.35" fill="#f2b47b" stroke="#999999" stroke-width="1.3"/>
<rect x="1386.86" y="842.10" width="39.38" height="24.35" fill="#f8f8cd" stroke="#999999" stroke-width="1.3"/>
<rect x="1426.24" y="842.10" width="39.38" height="24.35" fill="#fcebaa" stroke="#999999" stroke-width="1.3"/>
<rect x="1465.62" y="842.10" width="39.38" height="24.35" fill="#fce9a7" stroke="#999999" stroke-width="1.3"/>
<rect x="1505.00" y="842.10" width="39.38" height="24.35" fill="#fdf2b6" stroke="#999999" stroke-width="1.3"/>
<rect x="1544.38" y="842.10" width="39.38" height="24.35" fill="#fbe29f" stroke="#999999" stroke-width="1.3"/>
<rect x="1583.76" y="842.10" width="39.38" height="24.35" fill="#f6f8d1" stroke="#999999" stroke-width="1.3"/>
<rect x="1623.14" y="842.10" width="39.38" height="24.35" fill="#e2eff0" stroke="#999999" stroke-width="1.3"/>
<rect x="1662.52" y="842.10" width="39.38" height="24.35" fill="#98b9d7" stroke="#999999" stroke-width="1.3"/>
<rect x="1701.90" y="842.10" width="39.38" height="24.35" fill="#98b9d7" stroke="#999999" stroke-width="1.3"/>
<rect x="1741.28" y="842.10" width="39.38" height="24.35" fill="#fdf2b6" stroke="#999999" stroke-width="1.3"/>
<rect x="1780.66" y="842.10" width="39.38" height="24.35" fill="#fbe4a1" stroke="#999999" stroke-width="1.3"/>
<rect x="1820.04" y="842.10" width="39.38" height="24.35" fill="#f9f9cb" stroke="#999999" stroke-width="1.3"/>
<rect x="1859.42" y="842.10" width="39.38" height="24.35" fill="#f6f8d1" stroke="#999999" stroke-width="1.3"/>
<rect x="1898.80" y="842.10" width="39.38" height="24.35" fill="#fefbc4" stroke="#999999" stroke-width="1.3"/>
<rect x="1308.10" y="866.45" width="39.38" height="24.35" fill="#f2b47b" stroke="#999999" stroke-width="1.3"/>
<rect x="1347.48" y="866.45" width="39.38" height="24.35" fill="#f1b179" stroke="#999999" stroke-width="1.3"/>
<rect x="1386.86" y="866.45" width="39.38" height="24.35" fill="#fdf2b6" stroke="#999999" stroke-width="1.3"/>
<rect x="1426.24" y="866.45" width="39.38" height="24.35" fill="#fae09c" stroke="#999999" stroke-width="1.3"/>
<rect x="1465.62" y="866.45" width="39.38" height="24.35" fill="#fbe4a1" stroke="#999999" stroke-width="1.3"/>
<rect x="1505.00" y="866.45" width="39.38" height="24.35" fill="#fade9b" stroke="#999999" stroke-width="1.3"/>
<rect x="1544.38" y="866.45" width="39.38" height="24.35" fill="#fdf0b2" stroke="#999999" stroke-width="1.3"/>
<rect x="1583.76" y="866.45" width="39.38" height="24.35" fill="#e9f2e2" stroke="#999999" stroke-width="1.3"/>
<rect x="1623.14" y="866.45" width="39.38" height="24.35" fill="#d2e4ef" stroke="#999999" stroke-width="1.3"/>
<rect x="1662.52" y="866.45" width="39.38" height="24.35" fill="#a6c4dd" stroke="#999999" stroke-width="1.3"/>
<rect x="1701.90" y="866.45" width="39.38" height="24.35" fill="#a6c4dd" stroke="#999999" stroke-width="1.3"/>
<rect x="1741.28" y="866.45" width="39.38" height="24.35" fill="#fef8c0" stroke="#999999" stroke-width="1.3"/>
<rect x="1780.66" y="866.45" width="39.38" height="24.35" fill="#fce9a7" stroke="#999999" stroke-width="1.3"/>
<rect x="1820.04" y="866.45" width="39.38" height="24.35" fill="#f8f8cd" stroke="#999999" stroke-width="1.3"/>
<rect x="1859.42" y="866.45" width="39.38" height="24.35" fill="#fefac3" stroke="#999999" stroke-width="1.3"/>
<rect x="1898.80" y="866.45" width="39.38" height="24.35" fill="#e9f2e2" stroke="#999999" stroke-width="1.3"/>
<rect x="1308.10" y="890.80" width="39.38" height="24.35" fill="#eb8a60" stroke="#999999" stroke-width="1.3"/>
<rect x="1347.48" y="890.80" width="39.38" height="24.35" fill="#f0ac75" stroke="#999999" stroke-width="1.3"/>
<rect x="1386.86" y="890.80" width="39.38" height="24.35" fill="#fefac3" stroke="#999999" stroke-width="1.3"/>
<rect x="1426.24" y="890.80" width="39.38" height="24.35" fill="#fbe19e" stroke="#999999" stroke-width="1.3"/>
<rect x="1465.62" y="890.80" width="39.38" height="24.35" fill="#fdf0b2" stroke="#999999" stroke-width="1.3"/>
<rect x="1505.00" y="890.80" width="39.38" height="24.35" fill="#fbe5a3" stroke="#999999" stroke-width="1.3"/>
<rect x="1544.38" y="890.80" width="39.38" height="24.35" fill="#fef8c0" stroke="#999999" stroke-width="1.3"/>
<rect x="1583.76" y="890.80" width="39.38" height="24.35" fill="#fefac3" stroke="#999999" stroke-width="1.3"/>
<rect x="1623.14" y="890.80" width="39.38" height="24.35" fill="#e1eef3" stroke="#999999" stroke-width="1.3"/>
<rect x="1662.52" y="890.80" width="39.38" height="24.35" fill="#a0c0db" stroke="#999999" stroke-width="1.3"/>
<rect x="1701.90" y="890.80" width="39.38" height="24.35" fill="#b9d2e5" stroke="#999999" stroke-width="1.3"/>
<rect x="1741.28" y="890.80" width="39.38" height="24.35" fill="#fef9c1" stroke="#999999" stroke-width="1.3"/>
<rect x="1780.66" y="890.80" width="39.38" height="24.35" fill="#fbe19e" stroke="#999999" stroke-width="1.3"/>
<rect x="1820.04" y="890.80" width="39.38" height="24.35" fill="#f3f6d4" stroke="#999999" stroke-width="1.3"/>
<rect x="1859.42" y="890.80" width="39.38" height="24.35" fill="#eff4da" stroke="#999999" stroke-width="1.3"/>
<rect x="1898.80" y="890.80" width="39.38" height="24.35" fill="#e3efee" stroke="#999999" stroke-width="1.3"/>
<rect x="1308.10" y="915.15" width="39.38" height="24.35" fill="#f8d291" stroke="#999999" stroke-width="1.3"/>
<rect x="1347.48" y="915.15" width="39.38" height="24.35" fill="#f6c98b" stroke="#999999" stroke-width="1.3"/>
<rect x="1386.86" y="915.15" width="39.38" height="24.35" fill="#cce0ed" stroke="#999999" stroke-width="1.3"/>
<rect x="1426.24" y="915.15" width="39.38" height="24.35" fill="#f7f8cf" stroke="#999999" stroke-width="1.3"/>
<rect x="1465.62" y="915.15" width="39.38" height="24.35" fill="#fdf4b9" stroke="#999999" stroke-width="1.3"/>
<rect x="1505.00" y="915.15" width="39.38" height="24.35" fill="#f4bf83" stroke="#999999" stroke-width="1.3"/>
<rect x="1544.38" y="915.15" width="39.38" height="24.35" fill="#ee9a6a" stroke="#999999" stroke-width="1.3"/>
<rect x="1583.76" y="915.15" width="39.38" height="24.35" fill="#f3f6d4" stroke="#999999" stroke-width="1.3"/>
<rect x="1623.14" y="915.15" width="39.38" height="24.35" fill="#eff4da" stroke="#999999" stroke-width="1.3"/>
<rect x="1662.52" y="915.15" width="39.38" height="24.35" fill="#b7d1e4" stroke="#999999" stroke-width="1.3"/>
<rect x="1701.90" y="915.15" width="39.38" height="24.35" fill="#cadeeb" stroke="#999999" stroke-width="1.3"/>
<rect x="1741.28" y="915.15" width="39.38" height="24.35" fill="#e2eff1" stroke="#999999" stroke-width="1.3"/>
<rect x="1780.66" y="915.15" width="39.38" height="24.35" fill="#f6f8d1" stroke="#999999" stroke-width="1.3"/>
<rect x="1820.04" y="915.15" width="39.38" height="24.35" fill="#f2f6d6" stroke="#999999" stroke-width="1.3"/>
<rect x="1859.42" y="915.15" width="39.38" height="24.35" fill="#fcebaa" stroke="#999999" stroke-width="1.3"/>
<rect x="1898.80" y="915.15" width="39.38" height="24.35" fill="#fbe29f" stroke="#999999" stroke-width="1.3"/>
<rect x="1308.10" y="939.50" width="39.38" height="24.35" fill="#f6c98b" stroke="#999999" stroke-width="1.3"/>
<rect x="1347.48" y="939.50" width="39.38" height="24.35" fill="#f0a973" stroke="#999999" stroke-width="1.3"/>
<rect x="1386.86" y="939.50" width="39.38" height="24.35" fill="#fdfac6" stroke="#999999" stroke-width="1.3"/>
<rect x="1426.24" y="939.50" width="39.38" height="24.35" fill="#fbe19e" stroke="#999999" stroke-width="1.3"/>
<rect x="1465.62" y="939.50" width="39.38" height="24.35" fill="#fbe19e" stroke="#999999" stroke-width="1.3"/>
<rect x="1505.00" y="939.50" width="39.38" height="24.35" fill="#fbe4a1" stroke="#999999" stroke-width="1.3"/>
<rect x="1544.38" y="939.50" width="39.38" height="24.35" fill="#fadd99" stroke="#999999" stroke-width="1.3"/>
<rect x="1583.76" y="939.50" width="39.38" height="24.35" fill="#fefac3" stroke="#999999" stroke-width="1.3"/>
<rect x="1623.14" y="939.50" width="39.38" height="24.35" fill="#fef9c1" stroke="#999999" stroke-width="1.3"/>
<rect x="1662.52" y="939.50" width="39.38" height="24.35" fill="#cfe2ee" stroke="#999999" stroke-width="1.3"/>
<rect x="1701.90" y="939.50" width="39.38" height="24.35" fill="#c0d7e7" stroke="#999999" stroke-width="1.3"/>
<rect x="1741.28" y="939.50" width="39.38" height="24.35" fill="#92b4d5" stroke="#999999" stroke-width="1.3"/>
<rect x="1780.66" y="939.50" width="39.38" height="24.35" fill="#e2eff1" stroke="#999999" stroke-width="1.3"/>
<rect x="1820.04" y="939.50" width="39.38" height="24.35" fill="#f3f6d4" stroke="#999999" stroke-width="1.3"/>
<rect x="1859.42" y="939.50" width="39.38" height="24.35" fill="#fafac9" stroke="#999999" stroke-width="1.3"/>
<rect x="1898.80" y="939.50" width="39.38" height="24.35" fill="#fceeb0" stroke="#999999" stroke-width="1.3"/>
<rect x="1308.10" y="963.85" width="39.38" height="24.35" fill="#f9d996" stroke="#999999" stroke-width="1.3"/>
<rect x="1347.48" y="963.85" width="39.38" height="24.35" fill="#f0ac75" stroke="#999999" stroke-width="1.3"/>
<rect x="1386.86" y="963.85" width="39.38" height="24.35" fill="#fefac3" stroke="#999999" stroke-width="1.3"/>
<rect x="1426.24" y="963.85" width="39.38" height="24.35" fill="#fefbc4" stroke="#999999" stroke-width="1.3"/>
<rect x="1465.62" y="963.85" width="39.38" height="24.35" fill="#fade9b" stroke="#999999" stroke-width="1.3"/>
<rect x="1505.00" y="963.85" width="39.38" height="24.35" fill="#fdf2b6" stroke="#999999" stroke-width="1.3"/>
<rect x="1544.38" y="963.85" width="39.38" height="24.35" fill="#f8d291" stroke="#999999" stroke-width="1.3"/>
<rect x="1583.76" y="963.85" width="39.38" height="24.35" fill="#f0f5d9" stroke="#999999" stroke-width="1.3"/>
<rect x="1623.14" y="963.85" width="39.38" height="24.35" fill="#fefac3" stroke="#999999" stroke-width="1.3"/>
<rect x="1662.52" y="963.85" width="39.38" height="24.35" fill="#d8e8f1" stroke="#999999" stroke-width="1.3"/>
<rect x="1701.90" y="963.85" width="39.38" height="24.35" fill="#a0c0db" stroke="#999999" stroke-width="1.3"/>
<rect x="1741.28" y="963.85" width="39.38" height="24.35" fill="#aecbe1" stroke="#999999" stroke-width="1.3"/>
<rect x="1780.66" y="963.85" width="39.38" height="24.35" fill="#e0eef5" stroke="#999999" stroke-width="1.3"/>
<rect x="1820.04" y="963.85" width="39.38" height="24.35" fill="#fdf0b3" stroke="#999999" stroke-width="1.3"/>
<rect x="1859.42" y="963.85" width="39.38" height="24.35" fill="#fcfac8" stroke="#999999" stroke-width="1.3"/>
<rect x="1898.80" y="963.85" width="39.38" height="24.35" fill="#f9d694" stroke="#999999" stroke-width="1.3"/>
<rect x="1308.10" y="988.20" width="39.38" height="24.35" fill="#ed9466" stroke="#999999" stroke-width="1.3"/>
<rect x="1347.48" y="988.20" width="39.38" height="24.35" fill="#fbe6a4" stroke="#999999" stroke-width="1.3"/>
<rect x="1386.86" y="988.20" width="39.38" height="24.35" fill="#fdf0b2" stroke="#999999" stroke-width="1.3"/>
<rect x="1426.24" y="988.20" width="39.38" height="24.35" fill="#fcebaa" stroke="#999999" stroke-width="1.3"/>
<rect x="1465.62" y="988.20" width="39.38" height="24.35" fill="#fce9a7" stroke="#999999" stroke-width="1.3"/>
<rect x="1505.00" y="988.20" width="39.38" height="24.35" fill="#fbe6a4" stroke="#999999" stroke-width="1.3"/>
<rect x="1544.38" y="988.20" width="39.38" height="24.35" fill="#f4bf83" stroke="#999999" stroke-width="1.3"/>
<rect x="1583.76" y="988.20" width="39.38" height="24.35" fill="#fbe5a3" stroke="#999999" stroke-width="1.3"/>
<rect x="1623.14" y="988.20" width="39.38" height="24.35" fill="#cadeeb" stroke="#999999" stroke-width="1.3"/>
<rect x="1662.52" y="988.20" width="39.38" height="24.35" fill="#a6c4dd" stroke="#999999" stroke-width="1.3"/>
<rect x="1701.90" y="988.20" width="39.38" height="24.35" fill="#e6f0e7" stroke="#999999" stroke-width="1.3"/>
<rect x="1741.28" y="988.20" width="39.38" height="24.35" fill="#b2cee3" stroke="#999999" stroke-width="1.3"/>
<rect x="1780.66" y="988.20" width="39.38" height="24.35" fill="#fdfac6" stroke="#999999" stroke-width="1.3"/>
<rect x="1820.04" y="988.20" width="39.38" height="24.35" fill="#eef4db" stroke="#999999" stroke-width="1.3"/>
<rect x="1859.42" y="988.20" width="39.38" height="24.35" fill="#f6f8d1" stroke="#999999" stroke-width="1.3"/>
<rect x="1898.80" y="988.20" width="39.38" height="24.35" fill="#fefac3" stroke="#999999" stroke-width="1.3"/>
<rect x="1308.10" y="1012.55" width="39.38" height="24.35" fill="#f6c98b" stroke="#999999" stroke-width="1.3"/>
<rect x="1347.48" y="1012.55" width="39.38" height="24.35" fill="#fcecad" stroke="#999999" stroke-width="1.3"/>
<rect x="1386.86" y="1012.55" width="39.38" height="24.35" fill="#fcfac8" stroke="#999999" stroke-width="1.3"/>
<rect x="1426.24" y="1012.55" width="39.38" height="24.35" fill="#fce7a6" stroke="#999999" stroke-width="1.3"/>
<rect x="1465.62" y="1012.55" width="39.38" height="24.35" fill="#fadb97" stroke="#999999" stroke-width="1.3"/>
<rect x="1505.00" y="1012.55" width="39.38" height="24.35" fill="#fdf2b6" stroke="#999999" stroke-width="1.3"/>
<rect x="1544.38" y="1012.55" width="39.38" height="24.35" fill="#e77e57" stroke="#999999" stroke-width="1.3"/>
<rect x="1583.76" y="1012.55" width="39.38" height="24.35" fill="#cce0ed" stroke="#999999" stroke-width="1.3"/>
<rect x="1623.14" y="1012.55" width="39.38" height="24.35" fill="#f7f8cf" stroke="#999999" stroke-width="1.3"/>
<rect x="1662.52" y="1012.55" width="39.38" height="24.35" fill="#8eb1d4" stroke="#999999" stroke-width="1.3"/>
<rect x="1701.90" y="1012.55" width="39.38" height="24.35" fill="#e6f0e8" stroke="#999999" stroke-width="1.3"/>
<rect x="1741.28" y="1012.55" width="39.38" height="24.35" fill="#e6f0e7" stroke="#999999" stroke-width="1.3"/>
<rect x="1780.66" y="1012.55" width="39.38" height="24.35" fill="#fceeb0" stroke="#999999" stroke-width="1.3"/>
<rect x="1820.04" y="1012.55" width="39.38" height="24.35" fill="#fcfac8" stroke="#999999" stroke-width="1.3"/>
<rect x="1859.42" y="1012.55" width="39.38" height="24.35" fill="#e9f2e2" stroke="#999999" stroke-width="1.3"/>
<rect x="1898.80" y="1012.55" width="39.38" height="24.35" fill="#fcedae" stroke="#999999" stroke-width="1.3"/>
<rect x="1308.10" y="1036.90" width="39.38" height="24.35" fill="#fbe19e" stroke="#999999" stroke-width="1.3"/>
<rect x="1347.48" y="1036.90" width="39.38" height="24.35" fill="#fceeb0" stroke="#999999" stroke-width="1.3"/>
<rect x="1386.86" y="1036.90" width="39.38" height="24.35" fill="#fcecac" stroke="#999999" stroke-width="1.3"/>
<rect x="1426.24" y="1036.90" width="39.38" height="24.35" fill="#fbe29f" stroke="#999999" stroke-width="1.3"/>
<rect x="1465.62" y="1036.90" width="39.38" height="24.35" fill="#9abbd9" stroke="#999999" stroke-width="1.3"/>
<rect x="1505.00" y="1036.90" width="39.38" height="24.35" fill="#fbe19e" stroke="#999999" stroke-width="1.3"/>
<rect x="1544.38" y="1036.90" width="39.38" height="24.35" fill="#fae09c" stroke="#999999" stroke-width="1.3"/>
<rect x="1583.76" y="1036.90" width="39.38" height="24.35" fill="#fef8c0" stroke="#999999" stroke-width="1.3"/>
<rect x="1623.14" y="1036.90" width="39.38" height="24.35" fill="#f8f8cd" stroke="#999999" stroke-width="1.3"/>
<rect x="1662.52" y="1036.90" width="39.38" height="24.35" fill="#fafac9" stroke="#999999" stroke-width="1.3"/>
<rect x="1701.90" y="1036.90" width="39.38" height="24.35" fill="#fefbc4" stroke="#999999" stroke-width="1.3"/>
<rect x="1741.28" y="1036.90" width="39.38" height="24.35" fill="#fdf0b3" stroke="#999999" stroke-width="1.3"/>
<rect x="1780.66" y="1036.90" width="39.38" height="24.35" fill="#fceeb0" stroke="#999999" stroke-width="1.3"/>
<rect x="1820.04" y="1036.90" width="39.38" height="24.35" fill="#507ab7" stroke="#999999" stroke-width="1.3"/>
<rect x="1859.42" y="1036.90" width="39.38" height="24.35" fill="#fceaa9" stroke="#999999" stroke-width="1.3"/>
<rect x="1898.80" y="1036.90" width="39.38" height="24.35" fill="#fcedae" stroke="#999999" stroke-width="1.3"/>
<rect x="1308.10" y="1061.25" width="39.38" height="24.35" fill="#fce9a7" stroke="#999999" stroke-width="1.3"/>
<rect x="1347.48" y="1061.25" width="39.38" height="24.35" fill="#fbe4a1" stroke="#999999" stroke-width="1.3"/>
<rect x="1386.86" y="1061.25" width="39.38" height="24.35" fill="#b9d2e5" stroke="#999999" stroke-width="1.3"/>
<rect x="1426.24" y="1061.25" width="39.38" height="24.35" fill="#f6f8d1" stroke="#999999" stroke-width="1.3"/>
<rect x="1465.62" y="1061.25" width="39.38" height="24.35" fill="#b7d1e4" stroke="#999999" stroke-width="1.3"/>
<rect x="1505.00" y="1061.25" width="39.38" height="24.35" fill="#eff4da" stroke="#999999" stroke-width="1.3"/>
<rect x="1544.38" y="1061.25" width="39.38" height="24.35" fill="#cadeeb" stroke="#999999" stroke-width="1.3"/>
<rect x="1583.76" y="1061.25" width="39.38" height="24.35" fill="#f1af77" stroke="#999999" stroke-width="1.3"/>
<rect x="1623.14" y="1061.25" width="39.38" height="24.35" fill="#efa671" stroke="#999999" stroke-width="1.3"/>
<rect x="1662.52" y="1061.25" width="39.38" height="24.35" fill="#fef6bd" stroke="#999999" stroke-width="1.3"/>
<rect x="1701.90" y="1061.25" width="39.38" height="24.35" fill="#fcebaa" stroke="#999999" stroke-width="1.3"/>
<rect x="1741.28" y="1061.25" width="39.38" height="24.35" fill="#f6c98b" stroke="#999999" stroke-width="1.3"/>
<rect x="1780.66" y="1061.25" width="39.38" height="24.35" fill="#fbe29f" stroke="#999999" stroke-width="1.3"/>
<rect x="1820.04" y="1061.25" width="39.38" height="24.35" fill="#d2e4ef" stroke="#999999" stroke-width="1.3"/>
<rect x="1859.42" y="1061.25" width="39.38" height="24.35" fill="#fef9c1" stroke="#999999" stroke-width="1.3"/>
<rect x="1898.80" y="1061.25" width="39.38" height="24.35" fill="#fefbc4" stroke="#999999" stroke-width="1.3"/>
<rect x="1308.10" y="1085.60" width="39.38" height="24.35" fill="#e6f0e7" stroke="#999999" stroke-width="1.3"/>
<rect x="1347.48" y="1085.60" width="39.38" height="24.35" fill="#a8c6df" stroke="#999999" stroke-width="1.3"/>
<rect x="1386.86" y="1085.60" width="39.38" height="24.35" fill="#e6f0e7" stroke="#999999" stroke-width="1.3"/>
<rect x="1426.24" y="1085.60" width="39.38" height="24.35" fill="#d8e8f1" stroke="#999999" stroke-width="1.3"/>
<rect x="1465.62" y="1085.60" width="39.38" height="24.35" fill="#fef8c0" stroke="#999999" stroke-width="1.3"/>
<rect x="1505.00" y="1085.60" width="39.38" height="24.35" fill="#f8d493" stroke="#999999" stroke-width="1.3"/>
<rect x="1544.38" y="1085.60" width="39.38" height="24.35" fill="#fdf0b2" stroke="#999999" stroke-width="1.3"/>
<rect x="1583.76" y="1085.60" width="39.38" height="24.35" fill="#fef8c0" stroke="#999999" stroke-width="1.3"/>
<rect x="1623.14" y="1085.60" width="39.38" height="24.35" fill="#e3efee" stroke="#999999" stroke-width="1.3"/>
<rect x="1662.52" y="1085.60" width="39.38" height="24.35" fill="#e1eef3" stroke="#999999" stroke-width="1.3"/>
<rect x="1701.90" y="1085.60" width="39.38" height="24.35" fill="#fdf1b5" stroke="#999999" stroke-width="1.3"/>
<rect x="1741.28" y="1085.60" width="39.38" height="24.35" fill="#fcecad" stroke="#999999" stroke-width="1.3"/>
<rect x="1780.66" y="1085.60" width="39.38" height="24.35" fill="#fef9c1" stroke="#999999" stroke-width="1.3"/>
<rect x="1820.04" y="1085.60" width="39.38" height="24.35" fill="#fade9b" stroke="#999999" stroke-width="1.3"/>
<rect x="1859.42" y="1085.60" width="39.38" height="24.35" fill="#f1af77" stroke="#999999" stroke-width="1.3"/>
<rect x="1898.80" y="1085.60" width="39.38" height="24.35" fill="#ea875d" stroke="#999999" stroke-width="1.3"/>
<rect x="1308.10" y="1109.95" width="39.38" height="24.35" fill="#c2d8e8" stroke="#999999" stroke-width="1.3"/>
<rect x="1347.48" y="1109.95" width="39.38" height="24.35" fill="#d2e4ef" stroke="#999999" stroke-width="1.3"/>
<rect x="1386.86" y="1109.95" width="39.38" height="24.35" fill="#b9d2e5" stroke="#999999" stroke-width="1.3"/>
<rect x="1426.24" y="1109.95" width="39.38" height="24.35" fill="#cce0ed" stroke="#999999" stroke-width="1.3"/>
<rect x="1465.62" y="1109.95" width="39.38" height="24.35" fill="#fafac9" stroke="#999999" stroke-width="1.3"/>
<rect x="1505.00" y="1109.95" width="39.38" height="24.35" fill="#f6f8d1" stroke="#999999" stroke-width="1.3"/>
<rect x="1544.38" y="1109.95" width="39.38" height="24.35" fill="#fafac9" stroke="#999999" stroke-width="1.3"/>
<rect x="1583.76" y="1109.95" width="39.38" height="24.35" fill="#fade9b" stroke="#999999" stroke-width="1.3"/>
<rect x="1623.14" y="1109.95" width="39.38" height="24.35" fill="#f1b179" stroke="#999999" stroke-width="1.3"/>
<rect x="1662.52" y="1109.95" width="39.38" height="24.35" fill="#f8d291" stroke="#999999" stroke-width="1.3"/>
<rect x="1701.90" y="1109.95" width="39.38" height="24.35" fill="#fade9b" stroke="#999999" stroke-width="1.3"/>
<rect x="1741.28" y="1109.95" width="39.38" height="24.35" fill="#f8f8cd" stroke="#999999" stroke-width="1.3"/>
<rect x="1780.66" y="1109.95" width="39.38" height="24.35" fill="#e2eff1" stroke="#999999" stroke-width="1.3"/>
<rect x="1820.04" y="1109.95" width="39.38" height="24.35" fill="#fbe29f" stroke="#999999" stroke-width="1.3"/>
<rect x="1859.42" y="1109.95" width="39.38" height="24.35" fill="#fceaa9" stroke="#999999" stroke-width="1.3"/>
<rect x="1898.80" y="1109.95" width="39.38" height="24.35" fill="#f4bc81" stroke="#999999" stroke-width="1.3"/>
<rect x="1308.10" y="1134.30" width="39.38" height="24.35" fill="#e1eef3" stroke="#999999" stroke-width="1.3"/>
<rect x="1347.48" y="1134.30" width="39.38" height="24.35" fill="#a8c6df" stroke="#999999" stroke-width="1.3"/>
<rect x="1386.86" y="1134.30" width="39.38" height="24.35" fill="#fefbc4" stroke="#999999" stroke-width="1.3"/>
<rect x="1426.24" y="1134.30" width="39.38" height="24.35" fill="#fef8c0" stroke="#999999" stroke-width="1.3"/>
<rect x="1465.62" y="1134.30" width="39.38" height="24.35" fill="#f8f8cd" stroke="#999999" stroke-width="1.3"/>
<rect x="1505.00" y="1134.30" width="39.38" height="24.35" fill="#f6f8d1" stroke="#999999" stroke-width="1.3"/>
<rect x="1544.38" y="1134.30" width="39.38" height="24.35" fill="#f6f8d1" stroke="#999999" stroke-width="1.3"/>
<rect x="1583.76" y="1134.30" width="39.38" height="24.35" fill="#fce7a6" stroke="#999999" stroke-width="1.3"/>
<rect x="1623.14" y="1134.30" width="39.38" height="24.35" fill="#f4bf83" stroke="#999999" stroke-width="1.3"/>
<rect x="1662.52" y="1134.30" width="39.38" height="24.35" fill="#f0a973" stroke="#999999" stroke-width="1.3"/>
<rect x="1701.90" y="1134.30" width="39.38" height="24.35" fill="#fbe4a1" stroke="#999999" stroke-width="1.3"/>
<rect x="1741.28" y="1134.30" width="39.38" height="24.35" fill="#edf4dc" stroke="#999999" stroke-width="1.3"/>
<rect x="1780.66" y="1134.30" width="39.38" height="24.35" fill="#9abbd9" stroke="#999999" stroke-width="1.3"/>
<rect x="1820.04" y="1134.30" width="39.38" height="24.35" fill="#f5c487" stroke="#999999" stroke-width="1.3"/>
<rect x="1859.42" y="1134.30" width="39.38" height="24.35" fill="#fbe19e" stroke="#999999" stroke-width="1.3"/>
<rect x="1898.80" y="1134.30" width="39.38" height="24.35" fill="#fefac3" stroke="#999999" stroke-width="1.3"/>
<path d="M1327.79,229.00V200.90H1367.17V229.00 M1406.55,229.00V196.80H1445.93V229.00 M1524.69,229.00V205.20H1564.07V229.00 M1485.31,229.00V192.50H1544.38V205.20 M1426.24,196.80V188.20H1514.84V192.50 M1347.48,200.90V166.70H1470.54V188.20 M1603.45,229.00V199.90H1642.83V229.00 M1682.21,229.00V198.60H1721.59V229.00 M1623.14,199.90V181.40H1701.90V198.60 M1760.97,229.00V196.80H1800.35V229.00 M1879.11,229.00V204.00H1918.49V229.00 M1839.73,229.00V191.40H1898.80V204.00 M1780.66,196.80V178.40H1869.26V191.40 M1662.52,181.40V156.70H1824.96V178.40 M1409.01,166.70V114.00H1743.74V156.70" fill="none" stroke="#111111" stroke-width="1.4" stroke-linejoin="miter" stroke-linecap="butt"/>
<path d="M1307.50,269.88H1272.60V294.23H1307.50 M1307.50,367.27H1281.20V391.62H1307.50 M1307.50,342.93H1279.80V379.45H1281.20 M1307.50,318.57H1258.50V361.19H1279.80 M1272.60,282.05H1249.60V339.88H1258.50 M1307.50,464.68H1288.30V489.02H1307.50 M1307.50,537.73H1289.70V562.08H1307.50 M1307.50,513.38H1287.10V549.90H1289.70 M1288.30,476.85H1281.20V531.64H1287.10 M1307.50,440.32H1276.80V504.24H1281.20 M1307.50,610.78H1276.80V635.12H1307.50 M1307.50,708.17H1296.60V732.53H1307.50 M1307.50,683.83H1291.00V720.35H1296.60 M1307.50,659.48H1289.70V702.09H1291.00 M1307.50,756.88H1283.90V781.22H1307.50 M1289.70,680.78H1271.20V769.05H1283.90 M1276.80,622.95H1265.70V724.92H1271.20 M1307.50,586.42H1255.60V673.93H1265.70 M1276.80,472.28H1251.20V630.18H1255.60 M1307.50,878.62H1289.70V902.98H1307.50 M1307.50,854.28H1286.90V890.80H1289.70 M1307.50,829.92H1278.10V872.54H1286.90 M1307.50,805.58H1265.70V851.23H1278.10 M1307.50,951.67H1283.90V976.03H1307.50 M1307.50,927.33H1268.40V963.85H1283.90 M1307.50,1000.38H1266.80V1024.73H1307.50 M1268.40,945.59H1261.30V1012.55H1266.80 M1265.70,828.40H1249.60V979.07H1261.30 M1251.20,551.23H1238.50V903.74H1249.60 M1307.50,415.98H1231.30V727.48H1238.50 M1249.60,310.97H1219.80V571.73H1231.30 M1307.50,1049.08H1238.50V1073.42H1307.50 M1307.50,1122.12H1265.50V1146.48H1307.50 M1307.50,1097.78H1232.70V1134.30H1265.50 M1238.50,1061.25H1208.50V1116.04H1232.70 M1219.80,441.35H1194.20V1088.64H1208.50" fill="none" stroke="#111111" stroke-width="1.4" stroke-linejoin="miter" stroke-linecap="butt"/>
<text x="1944.00" y="276.88" font-size="21.5" font-weight="normal" text-anchor="start" fill="#1a1a22" letter-spacing="0.3">PSMB8</text>
<text x="1944.00" y="301.23" font-size="21.5" font-weight="normal" text-anchor="start" fill="#1a1a22" letter-spacing="0.3">TYK2</text>
<text x="1944.00" y="325.57" font-size="21.5" font-weight="normal" text-anchor="start" fill="#1a1a22" letter-spacing="0.3">IRF3</text>
<text x="1944.00" y="349.93" font-size="21.5" font-weight="normal" text-anchor="start" fill="#1a1a22" letter-spacing="0.3">ADAR</text>
<text x="1944.00" y="374.27" font-size="21.5" font-weight="normal" text-anchor="start" fill="#1a1a22" letter-spacing="0.3">SP100</text>
<text x="1944.00" y="398.62" font-size="21.5" font-weight="normal" text-anchor="start" fill="#1a1a22" letter-spacing="0.3">OASL</text>
<text x="1944.00" y="422.98" font-size="21.5" font-weight="normal" text-anchor="start" fill="#1a1a22" letter-spacing="0.3">IFITM2</text>
<text x="1944.00" y="447.32" font-size="21.5" font-weight="normal" text-anchor="start" fill="#1a1a22" letter-spacing="0.3">MX2</text>
<text x="1944.00" y="471.68" font-size="21.5" font-weight="normal" text-anchor="start" fill="#1a1a22" letter-spacing="0.3">OAS3</text>
<text x="1944.00" y="496.02" font-size="21.5" font-weight="normal" text-anchor="start" fill="#1a1a22" letter-spacing="0.3">IFIT1</text>
<text x="1944.00" y="520.38" font-size="21.5" font-weight="normal" text-anchor="start" fill="#1a1a22" letter-spacing="0.3">XAF1</text>
<text x="1944.00" y="544.73" font-size="21.5" font-weight="normal" text-anchor="start" fill="#1a1a22" letter-spacing="0.3">MX1</text>
<text x="1944.00" y="569.08" font-size="21.5" font-weight="normal" text-anchor="start" fill="#1a1a22" letter-spacing="0.3">IRF1</text>
<text x="1944.00" y="593.42" font-size="21.5" font-weight="normal" text-anchor="start" fill="#1a1a22" letter-spacing="0.3">RNASEL</text>
<text x="1944.00" y="617.78" font-size="21.5" font-weight="normal" text-anchor="start" fill="#1a1a22" letter-spacing="0.3">IRF7</text>
<text x="1944.00" y="642.12" font-size="21.5" font-weight="normal" text-anchor="start" fill="#1a1a22" letter-spacing="0.3">STAT2</text>
<text x="1944.00" y="666.48" font-size="21.5" font-weight="normal" text-anchor="start" fill="#1a1a22" letter-spacing="0.3">OAS2</text>
<text x="1944.00" y="690.83" font-size="21.5" font-weight="normal" text-anchor="start" fill="#1a1a22" letter-spacing="0.3">IFI6</text>
<text x="1944.00" y="715.17" font-size="21.5" font-weight="normal" text-anchor="start" fill="#1a1a22" letter-spacing="0.3">OAS1</text>
<text x="1944.00" y="739.53" font-size="21.5" font-weight="normal" text-anchor="start" fill="#1a1a22" letter-spacing="0.3">IFI35</text>
<text x="1944.00" y="763.88" font-size="21.5" font-weight="normal" text-anchor="start" fill="#1a1a22" letter-spacing="0.3">SAMHD1</text>
<text x="1944.00" y="788.22" font-size="21.5" font-weight="normal" text-anchor="start" fill="#1a1a22" letter-spacing="0.3">IFITM1</text>
<text x="1944.00" y="812.58" font-size="21.5" font-weight="normal" text-anchor="start" fill="#1a1a22" letter-spacing="0.3">ISG15</text>
<text x="1944.00" y="836.92" font-size="21.5" font-weight="normal" text-anchor="start" fill="#1a1a22" letter-spacing="0.3">IFIT2</text>
<text x="1944.00" y="861.28" font-size="21.5" font-weight="normal" text-anchor="start" fill="#1a1a22" letter-spacing="0.3">STAT1</text>
<text x="1944.00" y="885.62" font-size="21.5" font-weight="normal" text-anchor="start" fill="#1a1a22" letter-spacing="0.3">RSAD2</text>
<text x="1944.00" y="909.98" font-size="21.5" font-weight="normal" text-anchor="start" fill="#1a1a22" letter-spacing="0.3">IFIT3</text>
<text x="1944.00" y="934.33" font-size="21.5" font-weight="normal" text-anchor="start" fill="#1a1a22" letter-spacing="0.3">IRF2</text>
<text x="1944.00" y="958.67" font-size="21.5" font-weight="normal" text-anchor="start" fill="#1a1a22" letter-spacing="0.3">IRF9</text>
<text x="1944.00" y="983.03" font-size="21.5" font-weight="normal" text-anchor="start" fill="#1a1a22" letter-spacing="0.3">ISG20</text>
<text x="1944.00" y="1007.38" font-size="21.5" font-weight="normal" text-anchor="start" fill="#1a1a22" letter-spacing="0.3">IKBKE</text>
<text x="1944.00" y="1031.73" font-size="21.5" font-weight="normal" text-anchor="start" fill="#1a1a22" letter-spacing="0.3">TRIM56</text>
<text x="1944.00" y="1056.08" font-size="21.5" font-weight="normal" text-anchor="start" fill="#1a1a22" letter-spacing="0.3">HLA−F</text>
<text x="1944.00" y="1080.42" font-size="21.5" font-weight="normal" text-anchor="start" fill="#1a1a22" letter-spacing="0.3">BST2</text>
<text x="1944.00" y="1104.78" font-size="21.5" font-weight="normal" text-anchor="start" fill="#1a1a22" letter-spacing="0.3">IRF4</text>
<text x="1944.00" y="1129.12" font-size="21.5" font-weight="normal" text-anchor="start" fill="#1a1a22" letter-spacing="0.3">GBP2</text>
<text x="1944.00" y="1153.48" font-size="21.5" font-weight="normal" text-anchor="start" fill="#1a1a22" letter-spacing="0.3">EGR1</text>
<text x="1944.80" y="248.50" font-size="21.7" font-weight="bold" text-anchor="start" fill="#111" >Stimulation</text>
<rect x="2067.10" y="227.70" width="22.50" height="327.00" fill="url(#g)"/>
<text x="2096.80" y="285.30" font-size="21.5" font-weight="normal" text-anchor="start" fill="#1a1a22" >2</text>
<text x="2096.80" y="341.30" font-size="21.5" font-weight="normal" text-anchor="start" fill="#1a1a22" >1</text>
<text x="2096.80" y="397.60" font-size="21.5" font-weight="normal" text-anchor="start" fill="#1a1a22" >0</text>
<text x="2096.80" y="454.30" font-size="21.5" font-weight="normal" text-anchor="start" fill="#1a1a22" >−1</text>
<text x="2096.80" y="510.60" font-size="21.5" font-weight="normal" text-anchor="start" fill="#1a1a22" >−2</text>
<text x="2130.20" y="243.00" font-size="21.7" font-weight="bold" text-anchor="start" fill="#111" >Stimulation</text>
<rect x="2130.50" y="251.30" width="31.40" height="31.00" fill="#60d6de" stroke="#999" stroke-width="1.3"/>
<rect x="2130.50" y="282.30" width="31.40" height="31.00" fill="#f0958c" stroke="#999" stroke-width="1.3"/>
<text x="2166.50" y="274.30" font-size="21.5" font-weight="normal" text-anchor="start" fill="#1a1a22" letter-spacing="0.3">DMSO</text>
<text x="2166.50" y="305.00" font-size="21.5" font-weight="normal" text-anchor="start" fill="#1a1a22" letter-spacing="0.3">T007</text>
</svg>
</body></html>
